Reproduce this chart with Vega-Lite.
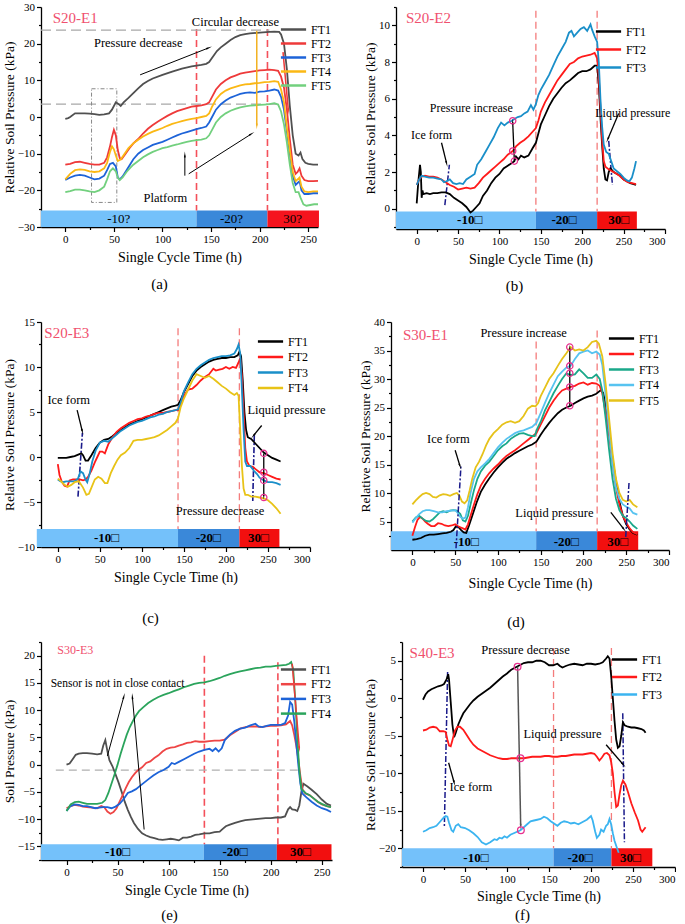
{
"$schema": "https://vega.github.io/schema/vega-lite/v6.json",
"padding": {"left": 2, "top": 1, "right": 0, "bottom": 0},
"datasets": {
"la": [
{"s":"FT1","t":0,"p":-0.5},{"s":"FT1","t":3,"p":-0.3},{"s":"FT1","t":5,"p":0},{"s":"FT1","t":10,"p":1},{"s":"FT1","t":15,"p":1},{"s":"FT1","t":20,"p":1},{"s":"FT1","t":25,"p":0.9},{"s":"FT1","t":30,"p":0.8},{"s":"FT1","t":35,"p":0.6},{"s":"FT1","t":40,"p":0.7},{"s":"FT1","t":45,"p":1},{"s":"FT1","t":48,"p":2},{"s":"FT1","t":52,"p":4},{"s":"FT1","t":55,"p":3.5},{"s":"FT1","t":57,"p":3},{"s":"FT1","t":60,"p":4},{"s":"FT1","t":65,"p":5.2},{"s":"FT1","t":70,"p":6.5},{"s":"FT1","t":75,"p":7.8},{"s":"FT1","t":80,"p":9},{"s":"FT1","t":85,"p":9.8},{"s":"FT1","t":90,"p":10.5},{"s":"FT1","t":100,"p":11.5},{"s":"FT1","t":110,"p":12.4},{"s":"FT1","t":120,"p":13.2},{"s":"FT1","t":130,"p":13.8},{"s":"FT1","t":140,"p":14.2},{"s":"FT1","t":145,"p":14.5},{"s":"FT1","t":148,"p":15},{"s":"FT1","t":152,"p":16.5},{"s":"FT1","t":156,"p":18},{"s":"FT1","t":160,"p":19},{"s":"FT1","t":165,"p":20},{"s":"FT1","t":170,"p":21},{"s":"FT1","t":175,"p":21.8},{"s":"FT1","t":180,"p":22.3},{"s":"FT1","t":185,"p":22.6},{"s":"FT1","t":190,"p":22.8},{"s":"FT1","t":200,"p":23},{"s":"FT1","t":210,"p":23.2},{"s":"FT1","t":215,"p":23.3},{"s":"FT1","t":220,"p":23.2},{"s":"FT1","t":222,"p":22.5},{"s":"FT1","t":225,"p":20},{"s":"FT1","t":228,"p":13},{"s":"FT1","t":231,"p":3},{"s":"FT1","t":234,"p":-5},{"s":"FT1","t":237,"p":-10},{"s":"FT1","t":240,"p":-10.5},{"s":"FT1","t":242,"p":-9.7},{"s":"FT1","t":244,"p":-11.5},{"s":"FT1","t":247,"p":-12.5},{"s":"FT1","t":250,"p":-12.8},{"s":"FT1","t":255,"p":-13},{"s":"FT1","t":260,"p":-13},
{"s":"FT2","t":0,"p":-13},{"s":"FT2","t":5,"p":-12.8},{"s":"FT2","t":10,"p":-12.3},{"s":"FT2","t":15,"p":-12.2},{"s":"FT2","t":20,"p":-12.5},{"s":"FT2","t":25,"p":-12.8},{"s":"FT2","t":30,"p":-13},{"s":"FT2","t":35,"p":-13},{"s":"FT2","t":40,"p":-12.5},{"s":"FT2","t":43,"p":-11},{"s":"FT2","t":46,"p":-8},{"s":"FT2","t":48,"p":-5.5},{"s":"FT2","t":50,"p":-3.5},{"s":"FT2","t":52,"p":-5},{"s":"FT2","t":54,"p":-9},{"s":"FT2","t":56,"p":-11.2},{"s":"FT2","t":58,"p":-11.5},{"s":"FT2","t":62,"p":-10},{"s":"FT2","t":66,"p":-8.5},{"s":"FT2","t":70,"p":-7.2},{"s":"FT2","t":75,"p":-6},{"s":"FT2","t":80,"p":-4.5},{"s":"FT2","t":85,"p":-3.2},{"s":"FT2","t":90,"p":-2.2},{"s":"FT2","t":95,"p":-1.3},{"s":"FT2","t":100,"p":-0.5},{"s":"FT2","t":105,"p":0.3},{"s":"FT2","t":110,"p":1},{"s":"FT2","t":115,"p":1.6},{"s":"FT2","t":120,"p":2},{"s":"FT2","t":125,"p":2.4},{"s":"FT2","t":130,"p":2.8},{"s":"FT2","t":135,"p":3},{"s":"FT2","t":140,"p":3.2},{"s":"FT2","t":145,"p":3.5},{"s":"FT2","t":148,"p":4},{"s":"FT2","t":151,"p":5.5},{"s":"FT2","t":155,"p":7.5},{"s":"FT2","t":160,"p":9},{"s":"FT2","t":165,"p":10},{"s":"FT2","t":170,"p":10.8},{"s":"FT2","t":175,"p":11.3},{"s":"FT2","t":180,"p":11.8},{"s":"FT2","t":185,"p":12.1},{"s":"FT2","t":190,"p":12.3},{"s":"FT2","t":195,"p":12.5},{"s":"FT2","t":200,"p":12.7},{"s":"FT2","t":205,"p":12.8},{"s":"FT2","t":210,"p":12.9},{"s":"FT2","t":215,"p":12.8},{"s":"FT2","t":219,"p":12.6},{"s":"FT2","t":222,"p":11},{"s":"FT2","t":225,"p":8},{"s":"FT2","t":228,"p":2},{"s":"FT2","t":231,"p":-6},{"s":"FT2","t":234,"p":-13},{"s":"FT2","t":237,"p":-15.5},{"s":"FT2","t":239,"p":-15},{"s":"FT2","t":241,"p":-14},{"s":"FT2","t":243,"p":-16},{"s":"FT2","t":246,"p":-17.2},{"s":"FT2","t":250,"p":-17.5},{"s":"FT2","t":255,"p":-17.5},{"s":"FT2","t":260,"p":-17.4},
{"s":"FT3","t":0,"p":-17.2},{"s":"FT3","t":5,"p":-16.5},{"s":"FT3","t":10,"p":-16},{"s":"FT3","t":15,"p":-15.8},{"s":"FT3","t":20,"p":-16},{"s":"FT3","t":25,"p":-16.5},{"s":"FT3","t":30,"p":-17},{"s":"FT3","t":35,"p":-16.8},{"s":"FT3","t":40,"p":-16},{"s":"FT3","t":43,"p":-14.5},{"s":"FT3","t":46,"p":-12.8},{"s":"FT3","t":49,"p":-12.5},{"s":"FT3","t":52,"p":-13.5},{"s":"FT3","t":54,"p":-16.5},{"s":"FT3","t":56,"p":-17},{"s":"FT3","t":59,"p":-16.2},{"s":"FT3","t":63,"p":-14.5},{"s":"FT3","t":67,"p":-12.8},{"s":"FT3","t":70,"p":-11.5},{"s":"FT3","t":75,"p":-10},{"s":"FT3","t":80,"p":-9},{"s":"FT3","t":85,"p":-8.3},{"s":"FT3","t":90,"p":-7.6},{"s":"FT3","t":95,"p":-7.2},{"s":"FT3","t":100,"p":-6.8},{"s":"FT3","t":105,"p":-6.2},{"s":"FT3","t":110,"p":-5.6},{"s":"FT3","t":115,"p":-5},{"s":"FT3","t":120,"p":-4.5},{"s":"FT3","t":125,"p":-4.1},{"s":"FT3","t":130,"p":-3.7},{"s":"FT3","t":135,"p":-3.3},{"s":"FT3","t":140,"p":-3},{"s":"FT3","t":145,"p":-2.6},{"s":"FT3","t":148,"p":-1.5},{"s":"FT3","t":151,"p":0},{"s":"FT3","t":155,"p":2},{"s":"FT3","t":160,"p":3.5},{"s":"FT3","t":165,"p":4.5},{"s":"FT3","t":170,"p":5.3},{"s":"FT3","t":175,"p":5.8},{"s":"FT3","t":180,"p":6.3},{"s":"FT3","t":185,"p":6.6},{"s":"FT3","t":190,"p":6.7},{"s":"FT3","t":195,"p":6.6},{"s":"FT3","t":200,"p":6.9},{"s":"FT3","t":205,"p":7},{"s":"FT3","t":210,"p":7.2},{"s":"FT3","t":215,"p":7.5},{"s":"FT3","t":219,"p":7.2},{"s":"FT3","t":222,"p":5.5},{"s":"FT3","t":225,"p":2},{"s":"FT3","t":228,"p":-4},{"s":"FT3","t":231,"p":-10},{"s":"FT3","t":234,"p":-16},{"s":"FT3","t":237,"p":-18.5},{"s":"FT3","t":239,"p":-18},{"s":"FT3","t":241,"p":-17.5},{"s":"FT3","t":243,"p":-20},{"s":"FT3","t":246,"p":-21},{"s":"FT3","t":250,"p":-21},{"s":"FT3","t":255,"p":-20.8},{"s":"FT3","t":260,"p":-20.8},
{"s":"FT4","t":0,"p":-17},{"s":"FT4","t":5,"p":-15.5},{"s":"FT4","t":10,"p":-14.5},{"s":"FT4","t":15,"p":-14.3},{"s":"FT4","t":20,"p":-14.4},{"s":"FT4","t":25,"p":-14.8},{"s":"FT4","t":30,"p":-15},{"s":"FT4","t":35,"p":-14.8},{"s":"FT4","t":40,"p":-14},{"s":"FT4","t":43,"p":-12.5},{"s":"FT4","t":46,"p":-9.5},{"s":"FT4","t":48,"p":-8},{"s":"FT4","t":50,"p":-8.8},{"s":"FT4","t":52,"p":-10.5},{"s":"FT4","t":54,"p":-12},{"s":"FT4","t":57,"p":-11.6},{"s":"FT4","t":61,"p":-10},{"s":"FT4","t":65,"p":-8.5},{"s":"FT4","t":70,"p":-7.2},{"s":"FT4","t":75,"p":-6.2},{"s":"FT4","t":80,"p":-5.3},{"s":"FT4","t":85,"p":-4.6},{"s":"FT4","t":90,"p":-4},{"s":"FT4","t":95,"p":-3.5},{"s":"FT4","t":100,"p":-3},{"s":"FT4","t":105,"p":-2.4},{"s":"FT4","t":110,"p":-1.9},{"s":"FT4","t":115,"p":-1.5},{"s":"FT4","t":120,"p":-1.1},{"s":"FT4","t":125,"p":-0.8},{"s":"FT4","t":130,"p":-0.5},{"s":"FT4","t":135,"p":-0.3},{"s":"FT4","t":140,"p":0},{"s":"FT4","t":145,"p":0.3},{"s":"FT4","t":148,"p":1},{"s":"FT4","t":151,"p":2.8},{"s":"FT4","t":155,"p":4.8},{"s":"FT4","t":160,"p":6.3},{"s":"FT4","t":165,"p":7.2},{"s":"FT4","t":170,"p":7.8},{"s":"FT4","t":175,"p":8.2},{"s":"FT4","t":180,"p":8.6},{"s":"FT4","t":185,"p":8.9},{"s":"FT4","t":190,"p":9},{"s":"FT4","t":195,"p":9.2},{"s":"FT4","t":200,"p":9.3},{"s":"FT4","t":205,"p":9.5},{"s":"FT4","t":210,"p":9.6},{"s":"FT4","t":215,"p":9.8},{"s":"FT4","t":219,"p":9.6},{"s":"FT4","t":222,"p":7.5},{"s":"FT4","t":225,"p":4},{"s":"FT4","t":228,"p":-3},{"s":"FT4","t":231,"p":-9},{"s":"FT4","t":234,"p":-15},{"s":"FT4","t":237,"p":-17.5},{"s":"FT4","t":239,"p":-17},{"s":"FT4","t":241,"p":-16.5},{"s":"FT4","t":243,"p":-19},{"s":"FT4","t":246,"p":-20.3},{"s":"FT4","t":250,"p":-20.5},{"s":"FT4","t":255,"p":-20.3},{"s":"FT4","t":260,"p":-20.3},
{"s":"FT5","t":0,"p":-20.5},{"s":"FT5","t":5,"p":-20.2},{"s":"FT5","t":10,"p":-19.8},{"s":"FT5","t":15,"p":-19.8},{"s":"FT5","t":20,"p":-20},{"s":"FT5","t":25,"p":-20.3},{"s":"FT5","t":30,"p":-20.5},{"s":"FT5","t":35,"p":-20},{"s":"FT5","t":40,"p":-19},{"s":"FT5","t":43,"p":-17},{"s":"FT5","t":46,"p":-14.8},{"s":"FT5","t":49,"p":-14},{"s":"FT5","t":52,"p":-14.8},{"s":"FT5","t":54,"p":-16.5},{"s":"FT5","t":56,"p":-17.2},{"s":"FT5","t":59,"p":-16.5},{"s":"FT5","t":63,"p":-15},{"s":"FT5","t":67,"p":-13.8},{"s":"FT5","t":70,"p":-13},{"s":"FT5","t":75,"p":-12},{"s":"FT5","t":80,"p":-11},{"s":"FT5","t":85,"p":-10.2},{"s":"FT5","t":90,"p":-9.5},{"s":"FT5","t":95,"p":-9},{"s":"FT5","t":100,"p":-8.5},{"s":"FT5","t":105,"p":-8.2},{"s":"FT5","t":110,"p":-7.8},{"s":"FT5","t":115,"p":-7.5},{"s":"FT5","t":120,"p":-7.1},{"s":"FT5","t":125,"p":-6.8},{"s":"FT5","t":130,"p":-6.5},{"s":"FT5","t":135,"p":-6.3},{"s":"FT5","t":140,"p":-6.2},{"s":"FT5","t":145,"p":-5.8},{"s":"FT5","t":148,"p":-5},{"s":"FT5","t":151,"p":-3.5},{"s":"FT5","t":155,"p":-1.5},{"s":"FT5","t":160,"p":0},{"s":"FT5","t":165,"p":1},{"s":"FT5","t":170,"p":1.7},{"s":"FT5","t":175,"p":2.2},{"s":"FT5","t":180,"p":2.6},{"s":"FT5","t":185,"p":2.9},{"s":"FT5","t":190,"p":3.1},{"s":"FT5","t":195,"p":3.2},{"s":"FT5","t":200,"p":3.3},{"s":"FT5","t":205,"p":3.4},{"s":"FT5","t":210,"p":3.5},{"s":"FT5","t":215,"p":3.8},{"s":"FT5","t":219,"p":3.4},{"s":"FT5","t":222,"p":1.5},{"s":"FT5","t":225,"p":-2},{"s":"FT5","t":228,"p":-7},{"s":"FT5","t":231,"p":-13},{"s":"FT5","t":234,"p":-18},{"s":"FT5","t":237,"p":-20.5},{"s":"FT5","t":240,"p":-20.5},{"s":"FT5","t":242,"p":-22},{"s":"FT5","t":245,"p":-23.8},{"s":"FT5","t":248,"p":-24.2},{"s":"FT5","t":252,"p":-24},{"s":"FT5","t":256,"p":-23.8},{"s":"FT5","t":260,"p":-23.8}
],
"lb": [
{"s":"FT1","t":0,"p":0.3},{"s":"FT1","t":2,"p":1.5},{"s":"FT1","t":4,"p":2.4},{"s":"FT1","t":5,"p":2},{"s":"FT1","t":6,"p":0.6},{"s":"FT1","t":7,"p":1},{"s":"FT1","t":8,"p":0.8},{"s":"FT1","t":12,"p":0.85},{"s":"FT1","t":16,"p":0.8},{"s":"FT1","t":20,"p":0.85},{"s":"FT1","t":25,"p":0.85},{"s":"FT1","t":30,"p":0.9},{"s":"FT1","t":35,"p":0.9},{"s":"FT1","t":40,"p":0.8},{"s":"FT1","t":45,"p":0.6},{"s":"FT1","t":50,"p":0.45},{"s":"FT1","t":55,"p":0.3},{"s":"FT1","t":60,"p":0.1},{"s":"FT1","t":65,"p":-0.2},{"s":"FT1","t":68,"p":-0.1},{"s":"FT1","t":72,"p":0.1},{"s":"FT1","t":76,"p":0.3},{"s":"FT1","t":80,"p":0.7},{"s":"FT1","t":85,"p":1},{"s":"FT1","t":90,"p":1.4},{"s":"FT1","t":95,"p":1.7},{"s":"FT1","t":100,"p":1.9},{"s":"FT1","t":105,"p":2.2},{"s":"FT1","t":110,"p":2.35},{"s":"FT1","t":115,"p":2.5},{"s":"FT1","t":118,"p":2.6},{"s":"FT1","t":120,"p":2.85},{"s":"FT1","t":123,"p":2.7},{"s":"FT1","t":126,"p":2.9},{"s":"FT1","t":130,"p":2.8},{"s":"FT1","t":135,"p":2.9},{"s":"FT1","t":140,"p":3.3},{"s":"FT1","t":144,"p":3.6},{"s":"FT1","t":147,"p":4.1},{"s":"FT1","t":150,"p":4.6},{"s":"FT1","t":155,"p":5.1},{"s":"FT1","t":160,"p":5.6},{"s":"FT1","t":165,"p":6},{"s":"FT1","t":170,"p":6.3},{"s":"FT1","t":175,"p":6.6},{"s":"FT1","t":180,"p":6.85},{"s":"FT1","t":185,"p":7},{"s":"FT1","t":190,"p":7.2},{"s":"FT1","t":195,"p":7.4},{"s":"FT1","t":200,"p":7.5},{"s":"FT1","t":205,"p":7.5},{"s":"FT1","t":210,"p":7.6},{"s":"FT1","t":215,"p":7.8},{"s":"FT1","t":218,"p":7.8},{"s":"FT1","t":220,"p":6.8},{"s":"FT1","t":222,"p":5},{"s":"FT1","t":224,"p":3.5},{"s":"FT1","t":226,"p":2.2},{"s":"FT1","t":228,"p":1.6},{"s":"FT1","t":230,"p":1.55},{"s":"FT1","t":232,"p":2},{"s":"FT1","t":234,"p":2.2},{"s":"FT1","t":238,"p":2},{"s":"FT1","t":242,"p":1.9},{"s":"FT1","t":246,"p":1.8},{"s":"FT1","t":250,"p":1.6},{"s":"FT1","t":254,"p":1.5},{"s":"FT1","t":258,"p":1.4},{"s":"FT1","t":262,"p":1.35},{"s":"FT1","t":265,"p":1.3},
{"s":"FT2","t":0,"p":1.3},{"s":"FT2","t":3,"p":1.6},{"s":"FT2","t":6,"p":1.75},{"s":"FT2","t":10,"p":1.8},{"s":"FT2","t":15,"p":1.75},{"s":"FT2","t":20,"p":1.75},{"s":"FT2","t":25,"p":1.7},{"s":"FT2","t":30,"p":1.6},{"s":"FT2","t":35,"p":1.45},{"s":"FT2","t":40,"p":1.3},{"s":"FT2","t":45,"p":1.2},{"s":"FT2","t":50,"p":1.05},{"s":"FT2","t":55,"p":1.1},{"s":"FT2","t":60,"p":1.15},{"s":"FT2","t":65,"p":1.1},{"s":"FT2","t":70,"p":1.15},{"s":"FT2","t":75,"p":1.4},{"s":"FT2","t":80,"p":1.7},{"s":"FT2","t":85,"p":1.9},{"s":"FT2","t":90,"p":2.1},{"s":"FT2","t":95,"p":2.3},{"s":"FT2","t":100,"p":2.5},{"s":"FT2","t":105,"p":2.7},{"s":"FT2","t":110,"p":2.95},{"s":"FT2","t":116,"p":3.15},{"s":"FT2","t":120,"p":3.4},{"s":"FT2","t":125,"p":3.6},{"s":"FT2","t":130,"p":3.75},{"s":"FT2","t":135,"p":3.95},{"s":"FT2","t":140,"p":4.2},{"s":"FT2","t":144,"p":4.4},{"s":"FT2","t":147,"p":4.8},{"s":"FT2","t":150,"p":5.3},{"s":"FT2","t":155,"p":5.8},{"s":"FT2","t":160,"p":6.2},{"s":"FT2","t":165,"p":6.6},{"s":"FT2","t":170,"p":7},{"s":"FT2","t":175,"p":7.3},{"s":"FT2","t":180,"p":7.6},{"s":"FT2","t":185,"p":7.9},{"s":"FT2","t":190,"p":8},{"s":"FT2","t":195,"p":8.2},{"s":"FT2","t":200,"p":8.3},{"s":"FT2","t":205,"p":8.35},{"s":"FT2","t":210,"p":8.4},{"s":"FT2","t":215,"p":8.5},{"s":"FT2","t":218,"p":8.2},{"s":"FT2","t":220,"p":7.2},{"s":"FT2","t":222,"p":5.5},{"s":"FT2","t":224,"p":3.8},{"s":"FT2","t":226,"p":2.6},{"s":"FT2","t":228,"p":2.3},{"s":"FT2","t":232,"p":2.15},{"s":"FT2","t":236,"p":2.05},{"s":"FT2","t":240,"p":1.95},{"s":"FT2","t":245,"p":1.8},{"s":"FT2","t":250,"p":1.6},{"s":"FT2","t":255,"p":1.45},{"s":"FT2","t":260,"p":1.4},{"s":"FT2","t":265,"p":1.35},
{"s":"FT3","t":0,"p":1.3},{"s":"FT3","t":3,"p":1.6},{"s":"FT3","t":6,"p":1.8},{"s":"FT3","t":10,"p":1.75},{"s":"FT3","t":15,"p":1.7},{"s":"FT3","t":20,"p":1.7},{"s":"FT3","t":25,"p":1.65},{"s":"FT3","t":30,"p":1.6},{"s":"FT3","t":33,"p":1.45},{"s":"FT3","t":36,"p":1.5},{"s":"FT3","t":40,"p":1.6},{"s":"FT3","t":44,"p":1.4},{"s":"FT3","t":48,"p":1.35},{"s":"FT3","t":52,"p":1.4},{"s":"FT3","t":56,"p":1.35},{"s":"FT3","t":60,"p":1.6},{"s":"FT3","t":65,"p":1.75},{"s":"FT3","t":70,"p":1.9},{"s":"FT3","t":73,"p":2.4},{"s":"FT3","t":78,"p":2.7},{"s":"FT3","t":83,"p":3.1},{"s":"FT3","t":88,"p":3.5},{"s":"FT3","t":93,"p":3.9},{"s":"FT3","t":98,"p":4.4},{"s":"FT3","t":102,"p":4.7},{"s":"FT3","t":106,"p":4.55},{"s":"FT3","t":110,"p":4.7},{"s":"FT3","t":115,"p":4.8},{"s":"FT3","t":118,"p":4.9},{"s":"FT3","t":122,"p":5},{"s":"FT3","t":126,"p":5.05},{"s":"FT3","t":130,"p":5.2},{"s":"FT3","t":134,"p":5.3},{"s":"FT3","t":138,"p":5.65},{"s":"FT3","t":141,"p":5.4},{"s":"FT3","t":144,"p":5.7},{"s":"FT3","t":147,"p":6.2},{"s":"FT3","t":150,"p":6.5},{"s":"FT3","t":155,"p":6.9},{"s":"FT3","t":160,"p":7.3},{"s":"FT3","t":165,"p":7.8},{"s":"FT3","t":170,"p":8.3},{"s":"FT3","t":175,"p":8.7},{"s":"FT3","t":180,"p":9.1},{"s":"FT3","t":184,"p":9.6},{"s":"FT3","t":187,"p":9.7},{"s":"FT3","t":190,"p":9.4},{"s":"FT3","t":194,"p":9.6},{"s":"FT3","t":198,"p":9.8},{"s":"FT3","t":202,"p":9.9},{"s":"FT3","t":206,"p":9.7},{"s":"FT3","t":210,"p":10.05},{"s":"FT3","t":212,"p":9.75},{"s":"FT3","t":215,"p":9.4},{"s":"FT3","t":218,"p":9.1},{"s":"FT3","t":220,"p":8},{"s":"FT3","t":222,"p":6},{"s":"FT3","t":224,"p":4.5},{"s":"FT3","t":226,"p":3.5},{"s":"FT3","t":229,"p":3.1},{"s":"FT3","t":232,"p":3},{"s":"FT3","t":235,"p":2.6},{"s":"FT3","t":238,"p":2.2},{"s":"FT3","t":242,"p":2.05},{"s":"FT3","t":246,"p":1.9},{"s":"FT3","t":250,"p":1.7},{"s":"FT3","t":254,"p":1.55},{"s":"FT3","t":257,"p":1.5},{"s":"FT3","t":260,"p":1.7},{"s":"FT3","t":263,"p":2.2},{"s":"FT3","t":265,"p":2.6}
],
"lc": [
{"s":"FT1","t":0,"p":-0.1},{"s":"FT1","t":5,"p":-0.1},{"s":"FT1","t":10,"p":-0.1},{"s":"FT1","t":15,"p":0},{"s":"FT1","t":20,"p":0.1},{"s":"FT1","t":25,"p":0.3},{"s":"FT1","t":28,"p":0.4},{"s":"FT1","t":30,"p":0.2},{"s":"FT1","t":33,"p":-0.4},{"s":"FT1","t":36,"p":-0.4},{"s":"FT1","t":40,"p":0.2},{"s":"FT1","t":45,"p":1},{"s":"FT1","t":50,"p":1.6},{"s":"FT1","t":55,"p":1.9},{"s":"FT1","t":60,"p":2},{"s":"FT1","t":65,"p":2.3},{"s":"FT1","t":70,"p":2.7},{"s":"FT1","t":75,"p":3},{"s":"FT1","t":80,"p":3.3},{"s":"FT1","t":85,"p":3.6},{"s":"FT1","t":90,"p":3.8},{"s":"FT1","t":95,"p":4},{"s":"FT1","t":100,"p":4.2},{"s":"FT1","t":105,"p":4.4},{"s":"FT1","t":110,"p":4.6},{"s":"FT1","t":115,"p":4.8},{"s":"FT1","t":120,"p":5},{"s":"FT1","t":125,"p":5.2},{"s":"FT1","t":130,"p":5.4},{"s":"FT1","t":135,"p":5.6},{"s":"FT1","t":140,"p":5.7},{"s":"FT1","t":143,"p":5.8},{"s":"FT1","t":146,"p":6.3},{"s":"FT1","t":150,"p":7.2},{"s":"FT1","t":155,"p":8.1},{"s":"FT1","t":160,"p":9},{"s":"FT1","t":165,"p":9.6},{"s":"FT1","t":170,"p":10},{"s":"FT1","t":175,"p":10.3},{"s":"FT1","t":180,"p":10.6},{"s":"FT1","t":185,"p":10.8},{"s":"FT1","t":190,"p":10.9},{"s":"FT1","t":195,"p":11},{"s":"FT1","t":200,"p":11},{"s":"FT1","t":205,"p":11.1},{"s":"FT1","t":210,"p":11.1},{"s":"FT1","t":214,"p":11.3},{"s":"FT1","t":216,"p":11.7},{"s":"FT1","t":218,"p":11.2},{"s":"FT1","t":220,"p":8.5},{"s":"FT1","t":222,"p":5},{"s":"FT1","t":224,"p":3},{"s":"FT1","t":226,"p":2.2},{"s":"FT1","t":230,"p":2},{"s":"FT1","t":235,"p":1.5},{"s":"FT1","t":240,"p":1},{"s":"FT1","t":245,"p":0.5},{"s":"FT1","t":250,"p":0.2},{"s":"FT1","t":255,"p":-0.1},{"s":"FT1","t":260,"p":-0.3},{"s":"FT1","t":265,"p":-0.5},
{"s":"FT2","t":0,"p":-0.8},{"s":"FT2","t":2,"p":-2},{"s":"FT2","t":5,"p":-2.8},{"s":"FT2","t":8,"p":-3.2},{"s":"FT2","t":11,"p":-3.3},{"s":"FT2","t":14,"p":-2.6},{"s":"FT2","t":18,"p":-2.5},{"s":"FT2","t":22,"p":-2.5},{"s":"FT2","t":26,"p":-2.5},{"s":"FT2","t":30,"p":-2.6},{"s":"FT2","t":33,"p":-2.5},{"s":"FT2","t":36,"p":-2.2},{"s":"FT2","t":40,"p":-1.5},{"s":"FT2","t":44,"p":-0.6},{"s":"FT2","t":47,"p":0},{"s":"FT2","t":50,"p":0.6},{"s":"FT2","t":53,"p":0.6},{"s":"FT2","t":56,"p":0.4},{"s":"FT2","t":60,"p":1.4},{"s":"FT2","t":65,"p":2.2},{"s":"FT2","t":70,"p":2.8},{"s":"FT2","t":75,"p":3.2},{"s":"FT2","t":80,"p":3.5},{"s":"FT2","t":85,"p":3.8},{"s":"FT2","t":90,"p":4},{"s":"FT2","t":95,"p":4.2},{"s":"FT2","t":100,"p":4.3},{"s":"FT2","t":105,"p":4.5},{"s":"FT2","t":110,"p":4.6},{"s":"FT2","t":115,"p":4.8},{"s":"FT2","t":120,"p":4.9},{"s":"FT2","t":125,"p":4.9},{"s":"FT2","t":130,"p":5},{"s":"FT2","t":135,"p":5.1},{"s":"FT2","t":140,"p":5.2},{"s":"FT2","t":143,"p":5.2},{"s":"FT2","t":146,"p":5.8},{"s":"FT2","t":150,"p":6.8},{"s":"FT2","t":155,"p":7.5},{"s":"FT2","t":160,"p":7.6},{"s":"FT2","t":165,"p":8},{"s":"FT2","t":170,"p":8.5},{"s":"FT2","t":175,"p":8.9},{"s":"FT2","t":180,"p":9.2},{"s":"FT2","t":185,"p":9.8},{"s":"FT2","t":188,"p":9.6},{"s":"FT2","t":192,"p":9.7},{"s":"FT2","t":196,"p":9.8},{"s":"FT2","t":200,"p":10},{"s":"FT2","t":204,"p":9.8},{"s":"FT2","t":208,"p":10},{"s":"FT2","t":212,"p":9.9},{"s":"FT2","t":215,"p":10.5},{"s":"FT2","t":217,"p":11},{"s":"FT2","t":219,"p":9},{"s":"FT2","t":221,"p":5},{"s":"FT2","t":223,"p":1},{"s":"FT2","t":225,"p":-0.5},{"s":"FT2","t":228,"p":-1},{"s":"FT2","t":232,"p":-1.1},{"s":"FT2","t":236,"p":-1.4},{"s":"FT2","t":240,"p":-1.7},{"s":"FT2","t":245,"p":-1.8},{"s":"FT2","t":250,"p":-2},{"s":"FT2","t":255,"p":-2.2},{"s":"FT2","t":260,"p":-2.4},{"s":"FT2","t":265,"p":-2.5},
{"s":"FT3","t":0,"p":-2.5},{"s":"FT3","t":3,"p":-2.7},{"s":"FT3","t":6,"p":-2.8},{"s":"FT3","t":10,"p":-2.7},{"s":"FT3","t":15,"p":-2.7},{"s":"FT3","t":20,"p":-2.7},{"s":"FT3","t":24,"p":-2.4},{"s":"FT3","t":27,"p":-1.6},{"s":"FT3","t":30,"p":-1.8},{"s":"FT3","t":33,"p":-2.5},{"s":"FT3","t":35,"p":-2.8},{"s":"FT3","t":38,"p":-1.8},{"s":"FT3","t":41,"p":-0.5},{"s":"FT3","t":45,"p":0.7},{"s":"FT3","t":50,"p":1.6},{"s":"FT3","t":55,"p":1.8},{"s":"FT3","t":60,"p":1.7},{"s":"FT3","t":65,"p":2.1},{"s":"FT3","t":70,"p":2.5},{"s":"FT3","t":75,"p":2.9},{"s":"FT3","t":80,"p":3.2},{"s":"FT3","t":85,"p":3.5},{"s":"FT3","t":90,"p":3.7},{"s":"FT3","t":95,"p":3.9},{"s":"FT3","t":100,"p":4},{"s":"FT3","t":105,"p":4.2},{"s":"FT3","t":110,"p":4.4},{"s":"FT3","t":115,"p":4.5},{"s":"FT3","t":120,"p":4.7},{"s":"FT3","t":125,"p":4.8},{"s":"FT3","t":130,"p":5},{"s":"FT3","t":135,"p":5.1},{"s":"FT3","t":140,"p":5.2},{"s":"FT3","t":143,"p":5.3},{"s":"FT3","t":146,"p":6},{"s":"FT3","t":150,"p":7.3},{"s":"FT3","t":155,"p":8.3},{"s":"FT3","t":160,"p":9.2},{"s":"FT3","t":165,"p":9.8},{"s":"FT3","t":170,"p":10.2},{"s":"FT3","t":175,"p":10.5},{"s":"FT3","t":180,"p":10.8},{"s":"FT3","t":185,"p":11},{"s":"FT3","t":190,"p":11.1},{"s":"FT3","t":195,"p":11.2},{"s":"FT3","t":200,"p":11.2},{"s":"FT3","t":205,"p":11.3},{"s":"FT3","t":210,"p":11.5},{"s":"FT3","t":213,"p":12},{"s":"FT3","t":215,"p":12.5},{"s":"FT3","t":217,"p":11.5},{"s":"FT3","t":219,"p":7.5},{"s":"FT3","t":221,"p":3},{"s":"FT3","t":223,"p":-0.5},{"s":"FT3","t":225,"p":-1},{"s":"FT3","t":229,"p":-1},{"s":"FT3","t":233,"p":-1.5},{"s":"FT3","t":237,"p":-1.9},{"s":"FT3","t":240,"p":-2.3},{"s":"FT3","t":245,"p":-2.6},{"s":"FT3","t":250,"p":-2.8},{"s":"FT3","t":255,"p":-2.8},{"s":"FT3","t":260,"p":-2.9},{"s":"FT3","t":265,"p":-3.1},
{"s":"FT4","t":0,"p":-2.4},{"s":"FT4","t":4,"p":-2.7},{"s":"FT4","t":8,"p":-3.1},{"s":"FT4","t":12,"p":-3.3},{"s":"FT4","t":16,"p":-3.1},{"s":"FT4","t":20,"p":-2.8},{"s":"FT4","t":25,"p":-2.7},{"s":"FT4","t":30,"p":-3.4},{"s":"FT4","t":34,"p":-4.2},{"s":"FT4","t":37,"p":-4.1},{"s":"FT4","t":40,"p":-3.4},{"s":"FT4","t":44,"p":-2.5},{"s":"FT4","t":48,"p":-2.2},{"s":"FT4","t":52,"p":-2.4},{"s":"FT4","t":56,"p":-2.9},{"s":"FT4","t":59,"p":-2.9},{"s":"FT4","t":63,"p":-1.8},{"s":"FT4","t":67,"p":-1},{"s":"FT4","t":71,"p":-0.3},{"s":"FT4","t":75,"p":0.2},{"s":"FT4","t":80,"p":0.5},{"s":"FT4","t":85,"p":1},{"s":"FT4","t":90,"p":1.8},{"s":"FT4","t":95,"p":1.9},{"s":"FT4","t":100,"p":1.9},{"s":"FT4","t":105,"p":2},{"s":"FT4","t":110,"p":2.1},{"s":"FT4","t":115,"p":2.2},{"s":"FT4","t":120,"p":2.4},{"s":"FT4","t":125,"p":2.7},{"s":"FT4","t":130,"p":3},{"s":"FT4","t":135,"p":3.4},{"s":"FT4","t":140,"p":3.8},{"s":"FT4","t":143,"p":4.3},{"s":"FT4","t":146,"p":5.5},{"s":"FT4","t":150,"p":6.5},{"s":"FT4","t":155,"p":7.5},{"s":"FT4","t":160,"p":8.5},{"s":"FT4","t":165,"p":9.2},{"s":"FT4","t":170,"p":9},{"s":"FT4","t":175,"p":8.8},{"s":"FT4","t":180,"p":9},{"s":"FT4","t":185,"p":8.7},{"s":"FT4","t":190,"p":8.3},{"s":"FT4","t":195,"p":7.9},{"s":"FT4","t":200,"p":7.6},{"s":"FT4","t":205,"p":7.2},{"s":"FT4","t":210,"p":6.9},{"s":"FT4","t":213,"p":7.1},{"s":"FT4","t":215,"p":6.8},{"s":"FT4","t":217,"p":3},{"s":"FT4","t":219,"p":-1},{"s":"FT4","t":221,"p":-3.5},{"s":"FT4","t":223,"p":-4.2},{"s":"FT4","t":226,"p":-4.2},{"s":"FT4","t":230,"p":-4.4},{"s":"FT4","t":235,"p":-4.4},{"s":"FT4","t":240,"p":-4.5},{"s":"FT4","t":245,"p":-4.6},{"s":"FT4","t":250,"p":-4.8},{"s":"FT4","t":255,"p":-5.2},{"s":"FT4","t":260,"p":-5.7},{"s":"FT4","t":265,"p":-6.3}
],
"ld": [
{"s":"FT1","t":0,"p":1.8},{"s":"FT1","t":5,"p":1.9},{"s":"FT1","t":10,"p":2.1},{"s":"FT1","t":15,"p":2.5},{"s":"FT1","t":20,"p":2.7},{"s":"FT1","t":25,"p":2.7},{"s":"FT1","t":30,"p":2.8},{"s":"FT1","t":35,"p":2.9},{"s":"FT1","t":40,"p":3},{"s":"FT1","t":45,"p":3.2},{"s":"FT1","t":48,"p":3.5},{"s":"FT1","t":51,"p":4.2},{"s":"FT1","t":54,"p":4},{"s":"FT1","t":57,"p":3.5},{"s":"FT1","t":60,"p":3.1},{"s":"FT1","t":63,"p":3},{"s":"FT1","t":66,"p":4.2},{"s":"FT1","t":70,"p":6},{"s":"FT1","t":75,"p":8.3},{"s":"FT1","t":80,"p":10.2},{"s":"FT1","t":85,"p":11.5},{"s":"FT1","t":90,"p":12.6},{"s":"FT1","t":95,"p":13.6},{"s":"FT1","t":100,"p":14.5},{"s":"FT1","t":105,"p":15.3},{"s":"FT1","t":110,"p":16},{"s":"FT1","t":115,"p":16.5},{"s":"FT1","t":120,"p":17},{"s":"FT1","t":125,"p":17.4},{"s":"FT1","t":130,"p":17.8},{"s":"FT1","t":135,"p":18.2},{"s":"FT1","t":140,"p":18.5},{"s":"FT1","t":145,"p":19},{"s":"FT1","t":150,"p":20.2},{"s":"FT1","t":155,"p":21.3},{"s":"FT1","t":160,"p":22.3},{"s":"FT1","t":165,"p":23.2},{"s":"FT1","t":170,"p":24},{"s":"FT1","t":175,"p":24.6},{"s":"FT1","t":180,"p":25},{"s":"FT1","t":185,"p":25.3},{"s":"FT1","t":190,"p":25.8},{"s":"FT1","t":195,"p":26.2},{"s":"FT1","t":200,"p":26.6},{"s":"FT1","t":205,"p":26.9},{"s":"FT1","t":210,"p":27.1},{"s":"FT1","t":215,"p":27.4},{"s":"FT1","t":220,"p":28},{"s":"FT1","t":223,"p":27.6},{"s":"FT1","t":226,"p":25.5},{"s":"FT1","t":230,"p":21},{"s":"FT1","t":234,"p":16},{"s":"FT1","t":238,"p":12},{"s":"FT1","t":242,"p":8.5},{"s":"FT1","t":246,"p":6},{"s":"FT1","t":250,"p":4.5},{"s":"FT1","t":254,"p":3.6},{"s":"FT1","t":258,"p":3},{"s":"FT1","t":263,"p":2.7},
{"s":"FT2","t":0,"p":2.5},{"s":"FT2","t":3,"p":4},{"s":"FT2","t":6,"p":5.3},{"s":"FT2","t":9,"p":5.8},{"s":"FT2","t":12,"p":5.5},{"s":"FT2","t":15,"p":5},{"s":"FT2","t":18,"p":4.6},{"s":"FT2","t":22,"p":4.2},{"s":"FT2","t":26,"p":4.2},{"s":"FT2","t":30,"p":4.7},{"s":"FT2","t":34,"p":4.6},{"s":"FT2","t":38,"p":4.3},{"s":"FT2","t":42,"p":4.2},{"s":"FT2","t":46,"p":4.3},{"s":"FT2","t":50,"p":4.5},{"s":"FT2","t":53,"p":4.2},{"s":"FT2","t":56,"p":4},{"s":"FT2","t":59,"p":3.8},{"s":"FT2","t":62,"p":3.6},{"s":"FT2","t":65,"p":4.5},{"s":"FT2","t":68,"p":6},{"s":"FT2","t":72,"p":8},{"s":"FT2","t":76,"p":9.8},{"s":"FT2","t":80,"p":11.3},{"s":"FT2","t":85,"p":12.5},{"s":"FT2","t":90,"p":13.5},{"s":"FT2","t":95,"p":14.3},{"s":"FT2","t":100,"p":15},{"s":"FT2","t":105,"p":15.8},{"s":"FT2","t":110,"p":16.5},{"s":"FT2","t":115,"p":17},{"s":"FT2","t":120,"p":17.5},{"s":"FT2","t":125,"p":18.1},{"s":"FT2","t":130,"p":18.7},{"s":"FT2","t":135,"p":19.3},{"s":"FT2","t":140,"p":19.9},{"s":"FT2","t":145,"p":20.5},{"s":"FT2","t":150,"p":22},{"s":"FT2","t":155,"p":23.5},{"s":"FT2","t":160,"p":25},{"s":"FT2","t":165,"p":26.2},{"s":"FT2","t":170,"p":27.2},{"s":"FT2","t":175,"p":28},{"s":"FT2","t":180,"p":28.3},{"s":"FT2","t":185,"p":28.6},{"s":"FT2","t":190,"p":28.8},{"s":"FT2","t":195,"p":29.2},{"s":"FT2","t":200,"p":29.4},{"s":"FT2","t":205,"p":29},{"s":"FT2","t":210,"p":29.3},{"s":"FT2","t":215,"p":29.2},{"s":"FT2","t":219,"p":28.8},{"s":"FT2","t":222,"p":27.5},{"s":"FT2","t":226,"p":24},{"s":"FT2","t":230,"p":20},{"s":"FT2","t":234,"p":15},{"s":"FT2","t":238,"p":11},{"s":"FT2","t":242,"p":8},{"s":"FT2","t":246,"p":6},{"s":"FT2","t":250,"p":4.8},{"s":"FT2","t":254,"p":3.8},{"s":"FT2","t":258,"p":3.1},{"s":"FT2","t":263,"p":2.8},
{"s":"FT3","t":0,"p":5},{"s":"FT3","t":4,"p":5.7},{"s":"FT3","t":8,"p":6},{"s":"FT3","t":12,"p":5.5},{"s":"FT3","t":16,"p":5.1},{"s":"FT3","t":20,"p":5},{"s":"FT3","t":24,"p":5.4},{"s":"FT3","t":28,"p":6},{"s":"FT3","t":32,"p":6.6},{"s":"FT3","t":36,"p":6.8},{"s":"FT3","t":40,"p":6.6},{"s":"FT3","t":44,"p":6.9},{"s":"FT3","t":48,"p":7},{"s":"FT3","t":52,"p":6.9},{"s":"FT3","t":56,"p":6.3},{"s":"FT3","t":59,"p":5.2},{"s":"FT3","t":62,"p":5},{"s":"FT3","t":65,"p":6},{"s":"FT3","t":68,"p":8},{"s":"FT3","t":72,"p":10.5},{"s":"FT3","t":76,"p":12.5},{"s":"FT3","t":80,"p":13.8},{"s":"FT3","t":85,"p":14.8},{"s":"FT3","t":90,"p":15.5},{"s":"FT3","t":95,"p":16.5},{"s":"FT3","t":100,"p":17.5},{"s":"FT3","t":105,"p":18.2},{"s":"FT3","t":110,"p":18.7},{"s":"FT3","t":115,"p":19.5},{"s":"FT3","t":120,"p":20},{"s":"FT3","t":125,"p":20.4},{"s":"FT3","t":130,"p":20.5},{"s":"FT3","t":135,"p":20.2},{"s":"FT3","t":140,"p":20},{"s":"FT3","t":143,"p":20},{"s":"FT3","t":146,"p":21.3},{"s":"FT3","t":150,"p":22.5},{"s":"FT3","t":155,"p":24.5},{"s":"FT3","t":160,"p":26},{"s":"FT3","t":165,"p":27.5},{"s":"FT3","t":170,"p":28.8},{"s":"FT3","t":175,"p":30},{"s":"FT3","t":180,"p":31},{"s":"FT3","t":185,"p":30.7},{"s":"FT3","t":190,"p":30.8},{"s":"FT3","t":195,"p":31.7},{"s":"FT3","t":200,"p":31},{"s":"FT3","t":205,"p":30.2},{"s":"FT3","t":210,"p":30.2},{"s":"FT3","t":215,"p":30.8},{"s":"FT3","t":219,"p":30},{"s":"FT3","t":222,"p":28},{"s":"FT3","t":226,"p":23},{"s":"FT3","t":230,"p":17.5},{"s":"FT3","t":234,"p":12.5},{"s":"FT3","t":238,"p":9},{"s":"FT3","t":242,"p":7},{"s":"FT3","t":246,"p":6},{"s":"FT3","t":250,"p":5.6},{"s":"FT3","t":254,"p":5},{"s":"FT3","t":258,"p":4.3},{"s":"FT3","t":263,"p":3.7},
{"s":"FT4","t":0,"p":4.8},{"s":"FT4","t":4,"p":5.6},{"s":"FT4","t":8,"p":6.3},{"s":"FT4","t":12,"p":6.8},{"s":"FT4","t":16,"p":7},{"s":"FT4","t":20,"p":7},{"s":"FT4","t":25,"p":6.8},{"s":"FT4","t":30,"p":6.6},{"s":"FT4","t":35,"p":6.6},{"s":"FT4","t":40,"p":6.8},{"s":"FT4","t":45,"p":6.9},{"s":"FT4","t":50,"p":7},{"s":"FT4","t":53,"p":6.5},{"s":"FT4","t":56,"p":5.8},{"s":"FT4","t":59,"p":5.5},{"s":"FT4","t":62,"p":5.7},{"s":"FT4","t":65,"p":7.5},{"s":"FT4","t":68,"p":10},{"s":"FT4","t":72,"p":12.5},{"s":"FT4","t":76,"p":13.8},{"s":"FT4","t":80,"p":14.5},{"s":"FT4","t":85,"p":15.2},{"s":"FT4","t":90,"p":16},{"s":"FT4","t":95,"p":17},{"s":"FT4","t":100,"p":18},{"s":"FT4","t":105,"p":18.8},{"s":"FT4","t":110,"p":19.5},{"s":"FT4","t":115,"p":20},{"s":"FT4","t":120,"p":20.5},{"s":"FT4","t":125,"p":20.8},{"s":"FT4","t":130,"p":21},{"s":"FT4","t":135,"p":21.3},{"s":"FT4","t":140,"p":21.6},{"s":"FT4","t":145,"p":22.3},{"s":"FT4","t":150,"p":24},{"s":"FT4","t":155,"p":25.8},{"s":"FT4","t":160,"p":27.5},{"s":"FT4","t":165,"p":29},{"s":"FT4","t":170,"p":30.5},{"s":"FT4","t":175,"p":31.3},{"s":"FT4","t":180,"p":32},{"s":"FT4","t":185,"p":32.3},{"s":"FT4","t":190,"p":33.5},{"s":"FT4","t":195,"p":34.5},{"s":"FT4","t":200,"p":34.8},{"s":"FT4","t":205,"p":35},{"s":"FT4","t":210,"p":34.5},{"s":"FT4","t":215,"p":34.8},{"s":"FT4","t":219,"p":34.3},{"s":"FT4","t":222,"p":32.5},{"s":"FT4","t":226,"p":27},{"s":"FT4","t":230,"p":21},{"s":"FT4","t":234,"p":15},{"s":"FT4","t":238,"p":11},{"s":"FT4","t":242,"p":9},{"s":"FT4","t":246,"p":8},{"s":"FT4","t":250,"p":7.6},{"s":"FT4","t":254,"p":7.3},{"s":"FT4","t":258,"p":6.5},{"s":"FT4","t":263,"p":6.2},
{"s":"FT5","t":0,"p":8},{"s":"FT5","t":4,"p":8.7},{"s":"FT5","t":8,"p":9.3},{"s":"FT5","t":12,"p":9.8},{"s":"FT5","t":16,"p":10},{"s":"FT5","t":20,"p":9.8},{"s":"FT5","t":24,"p":9.3},{"s":"FT5","t":28,"p":9.2},{"s":"FT5","t":32,"p":9.6},{"s":"FT5","t":36,"p":9.8},{"s":"FT5","t":40,"p":9.7},{"s":"FT5","t":44,"p":9.5},{"s":"FT5","t":48,"p":9.8},{"s":"FT5","t":52,"p":10},{"s":"FT5","t":55,"p":9.5},{"s":"FT5","t":58,"p":8.5},{"s":"FT5","t":61,"p":8.2},{"s":"FT5","t":64,"p":8.7},{"s":"FT5","t":67,"p":10.5},{"s":"FT5","t":70,"p":12.5},{"s":"FT5","t":74,"p":14.5},{"s":"FT5","t":78,"p":15.5},{"s":"FT5","t":82,"p":16.8},{"s":"FT5","t":86,"p":18.3},{"s":"FT5","t":90,"p":19.5},{"s":"FT5","t":95,"p":20.5},{"s":"FT5","t":100,"p":21.2},{"s":"FT5","t":105,"p":22},{"s":"FT5","t":110,"p":22.4},{"s":"FT5","t":115,"p":22.6},{"s":"FT5","t":120,"p":22.3},{"s":"FT5","t":125,"p":22.6},{"s":"FT5","t":130,"p":23.5},{"s":"FT5","t":135,"p":24.8},{"s":"FT5","t":140,"p":25.3},{"s":"FT5","t":144,"p":25.2},{"s":"FT5","t":147,"p":25.8},{"s":"FT5","t":150,"p":27},{"s":"FT5","t":155,"p":28.5},{"s":"FT5","t":160,"p":30},{"s":"FT5","t":165,"p":31},{"s":"FT5","t":170,"p":32.3},{"s":"FT5","t":175,"p":33.5},{"s":"FT5","t":180,"p":34.5},{"s":"FT5","t":185,"p":35.6},{"s":"FT5","t":190,"p":35},{"s":"FT5","t":195,"p":35.2},{"s":"FT5","t":200,"p":35},{"s":"FT5","t":205,"p":35.6},{"s":"FT5","t":210,"p":36.5},{"s":"FT5","t":215,"p":36.7},{"s":"FT5","t":218,"p":36.2},{"s":"FT5","t":222,"p":34},{"s":"FT5","t":226,"p":29},{"s":"FT5","t":230,"p":23},{"s":"FT5","t":234,"p":17},{"s":"FT5","t":238,"p":12.5},{"s":"FT5","t":242,"p":10},{"s":"FT5","t":246,"p":8.8},{"s":"FT5","t":250,"p":8.5},{"s":"FT5","t":254,"p":8.8},{"s":"FT5","t":258,"p":8},{"s":"FT5","t":263,"p":7.5}
],
"le": [
{"s":"FT1","t":0,"p":0},{"s":"FT1","t":3,"p":0.2},{"s":"FT1","t":6,"p":1},{"s":"FT1","t":9,"p":1.8},{"s":"FT1","t":12,"p":2},{"s":"FT1","t":16,"p":2.1},{"s":"FT1","t":20,"p":2.1},{"s":"FT1","t":25,"p":2},{"s":"FT1","t":30,"p":1.9},{"s":"FT1","t":34,"p":2},{"s":"FT1","t":36,"p":3.5},{"s":"FT1","t":38,"p":4.5},{"s":"FT1","t":40,"p":2.5},{"s":"FT1","t":42,"p":0.8},{"s":"FT1","t":45,"p":-0.3},{"s":"FT1","t":48,"p":-1.8},{"s":"FT1","t":51,"p":-3.3},{"s":"FT1","t":54,"p":-5},{"s":"FT1","t":57,"p":-6.8},{"s":"FT1","t":60,"p":-8.3},{"s":"FT1","t":63,"p":-9.6},{"s":"FT1","t":66,"p":-10.7},{"s":"FT1","t":70,"p":-11.8},{"s":"FT1","t":74,"p":-12.6},{"s":"FT1","t":78,"p":-13},{"s":"FT1","t":82,"p":-13.3},{"s":"FT1","t":86,"p":-13.5},{"s":"FT1","t":90,"p":-13.7},{"s":"FT1","t":94,"p":-13.8},{"s":"FT1","t":98,"p":-13.7},{"s":"FT1","t":102,"p":-13.6},{"s":"FT1","t":106,"p":-13.7},{"s":"FT1","t":110,"p":-13.9},{"s":"FT1","t":114,"p":-13.4},{"s":"FT1","t":118,"p":-13.4},{"s":"FT1","t":122,"p":-13.2},{"s":"FT1","t":126,"p":-12.9},{"s":"FT1","t":130,"p":-12.8},{"s":"FT1","t":135,"p":-12.6},{"s":"FT1","t":140,"p":-12.6},{"s":"FT1","t":145,"p":-12.4},{"s":"FT1","t":150,"p":-12.3},{"s":"FT1","t":153,"p":-11.8},{"s":"FT1","t":156,"p":-11.3},{"s":"FT1","t":160,"p":-11},{"s":"FT1","t":165,"p":-10.7},{"s":"FT1","t":170,"p":-10.4},{"s":"FT1","t":175,"p":-10.2},{"s":"FT1","t":180,"p":-10.1},{"s":"FT1","t":185,"p":-10},{"s":"FT1","t":190,"p":-9.9},{"s":"FT1","t":195,"p":-9.8},{"s":"FT1","t":200,"p":-9.8},{"s":"FT1","t":205,"p":-9.7},{"s":"FT1","t":210,"p":-9.7},{"s":"FT1","t":214,"p":-9.5},{"s":"FT1","t":217,"p":-8.2},{"s":"FT1","t":219,"p":-7.8},{"s":"FT1","t":221,"p":-8.2},{"s":"FT1","t":224,"p":-8.3},{"s":"FT1","t":226,"p":-8.5},{"s":"FT1","t":228,"p":-7.5},{"s":"FT1","t":230,"p":-5},{"s":"FT1","t":232,"p":-3.5},{"s":"FT1","t":236,"p":-4},{"s":"FT1","t":240,"p":-4.6},{"s":"FT1","t":245,"p":-5.4},{"s":"FT1","t":250,"p":-6.4},{"s":"FT1","t":255,"p":-7.2},{"s":"FT1","t":259,"p":-7.5},
{"s":"FT2","t":0,"p":-8},{"s":"FT2","t":4,"p":-7.6},{"s":"FT2","t":8,"p":-7.4},{"s":"FT2","t":12,"p":-7.5},{"s":"FT2","t":16,"p":-7.7},{"s":"FT2","t":20,"p":-7.8},{"s":"FT2","t":25,"p":-7.9},{"s":"FT2","t":30,"p":-8},{"s":"FT2","t":34,"p":-7.6},{"s":"FT2","t":37,"p":-7.8},{"s":"FT2","t":40,"p":-8.6},{"s":"FT2","t":43,"p":-9},{"s":"FT2","t":46,"p":-8.7},{"s":"FT2","t":49,"p":-8},{"s":"FT2","t":52,"p":-6.8},{"s":"FT2","t":55,"p":-5.6},{"s":"FT2","t":58,"p":-4.3},{"s":"FT2","t":61,"p":-3.2},{"s":"FT2","t":64,"p":-2.3},{"s":"FT2","t":67,"p":-1.6},{"s":"FT2","t":70,"p":-1},{"s":"FT2","t":74,"p":-0.5},{"s":"FT2","t":78,"p":0.3},{"s":"FT2","t":82,"p":0.6},{"s":"FT2","t":86,"p":1.2},{"s":"FT2","t":90,"p":1.7},{"s":"FT2","t":94,"p":2.4},{"s":"FT2","t":98,"p":2.9},{"s":"FT2","t":102,"p":3.1},{"s":"FT2","t":106,"p":3.2},{"s":"FT2","t":110,"p":3.5},{"s":"FT2","t":114,"p":3.7},{"s":"FT2","t":118,"p":4},{"s":"FT2","t":122,"p":4.1},{"s":"FT2","t":126,"p":4.3},{"s":"FT2","t":130,"p":4.2},{"s":"FT2","t":135,"p":4.2},{"s":"FT2","t":140,"p":4.3},{"s":"FT2","t":145,"p":4.4},{"s":"FT2","t":150,"p":4.4},{"s":"FT2","t":155,"p":4.6},{"s":"FT2","t":160,"p":5.4},{"s":"FT2","t":165,"p":6},{"s":"FT2","t":170,"p":6.6},{"s":"FT2","t":175,"p":6.9},{"s":"FT2","t":180,"p":7},{"s":"FT2","t":185,"p":7},{"s":"FT2","t":190,"p":6.9},{"s":"FT2","t":195,"p":7},{"s":"FT2","t":200,"p":7.1},{"s":"FT2","t":205,"p":7.1},{"s":"FT2","t":210,"p":7.2},{"s":"FT2","t":215,"p":7.4},{"s":"FT2","t":219,"p":8},{"s":"FT2","t":221,"p":7.2},{"s":"FT2","t":223,"p":5.5},{"s":"FT2","t":225,"p":3.5},{"s":"FT2","t":227,"p":1},{"s":"FT2","t":229,"p":-2},{"s":"FT2","t":231,"p":-4.5},{"s":"FT2","t":234,"p":-5.3},{"s":"FT2","t":238,"p":-5.6},{"s":"FT2","t":242,"p":-6.2},{"s":"FT2","t":246,"p":-6.8},{"s":"FT2","t":250,"p":-7.3},{"s":"FT2","t":255,"p":-7.6},{"s":"FT2","t":259,"p":-7.8},
{"s":"FT3","t":0,"p":-8.5},{"s":"FT3","t":4,"p":-7.6},{"s":"FT3","t":8,"p":-7.3},{"s":"FT3","t":12,"p":-7.4},{"s":"FT3","t":16,"p":-7.6},{"s":"FT3","t":20,"p":-7.6},{"s":"FT3","t":24,"p":-7.8},{"s":"FT3","t":28,"p":-8},{"s":"FT3","t":32,"p":-7.9},{"s":"FT3","t":36,"p":-7.8},{"s":"FT3","t":40,"p":-7.8},{"s":"FT3","t":44,"p":-8},{"s":"FT3","t":48,"p":-7.7},{"s":"FT3","t":52,"p":-7.2},{"s":"FT3","t":56,"p":-6.3},{"s":"FT3","t":60,"p":-5.2},{"s":"FT3","t":64,"p":-4.9},{"s":"FT3","t":68,"p":-4.5},{"s":"FT3","t":72,"p":-3.9},{"s":"FT3","t":76,"p":-3.3},{"s":"FT3","t":80,"p":-2.7},{"s":"FT3","t":85,"p":-2},{"s":"FT3","t":90,"p":-1.4},{"s":"FT3","t":95,"p":-1},{"s":"FT3","t":100,"p":-0.4},{"s":"FT3","t":103,"p":0.3},{"s":"FT3","t":106,"p":0.1},{"s":"FT3","t":110,"p":0.5},{"s":"FT3","t":115,"p":1},{"s":"FT3","t":120,"p":1.5},{"s":"FT3","t":125,"p":2},{"s":"FT3","t":130,"p":2.4},{"s":"FT3","t":135,"p":2.7},{"s":"FT3","t":140,"p":2.9},{"s":"FT3","t":143,"p":2.5},{"s":"FT3","t":146,"p":3},{"s":"FT3","t":149,"p":2.4},{"s":"FT3","t":152,"p":3},{"s":"FT3","t":155,"p":4.5},{"s":"FT3","t":160,"p":5.5},{"s":"FT3","t":165,"p":6.2},{"s":"FT3","t":170,"p":6.6},{"s":"FT3","t":175,"p":6.8},{"s":"FT3","t":180,"p":7.2},{"s":"FT3","t":185,"p":7.5},{"s":"FT3","t":188,"p":7},{"s":"FT3","t":192,"p":6.9},{"s":"FT3","t":196,"p":7.1},{"s":"FT3","t":200,"p":7.3},{"s":"FT3","t":205,"p":7.3},{"s":"FT3","t":210,"p":7.3},{"s":"FT3","t":214,"p":7.6},{"s":"FT3","t":217,"p":9},{"s":"FT3","t":219,"p":11.5},{"s":"FT3","t":221,"p":11},{"s":"FT3","t":223,"p":8},{"s":"FT3","t":225,"p":4},{"s":"FT3","t":227,"p":0},{"s":"FT3","t":229,"p":-3.5},{"s":"FT3","t":231,"p":-5.3},{"s":"FT3","t":235,"p":-6},{"s":"FT3","t":240,"p":-6.8},{"s":"FT3","t":245,"p":-7.5},{"s":"FT3","t":250,"p":-8},{"s":"FT3","t":255,"p":-8.3},{"s":"FT3","t":259,"p":-8.7},
{"s":"FT4","t":0,"p":-8.5},{"s":"FT4","t":4,"p":-7.3},{"s":"FT4","t":8,"p":-6.9},{"s":"FT4","t":12,"p":-6.8},{"s":"FT4","t":16,"p":-7},{"s":"FT4","t":20,"p":-7.2},{"s":"FT4","t":25,"p":-7.2},{"s":"FT4","t":30,"p":-7.2},{"s":"FT4","t":35,"p":-7},{"s":"FT4","t":38,"p":-6.5},{"s":"FT4","t":41,"p":-5.2},{"s":"FT4","t":44,"p":-3.5},{"s":"FT4","t":47,"p":-1.8},{"s":"FT4","t":50,"p":0},{"s":"FT4","t":53,"p":2},{"s":"FT4","t":56,"p":3.8},{"s":"FT4","t":59,"p":5.5},{"s":"FT4","t":62,"p":6.9},{"s":"FT4","t":65,"p":8},{"s":"FT4","t":68,"p":9},{"s":"FT4","t":71,"p":9.8},{"s":"FT4","t":75,"p":10.5},{"s":"FT4","t":80,"p":11.3},{"s":"FT4","t":85,"p":11.9},{"s":"FT4","t":90,"p":12.4},{"s":"FT4","t":95,"p":12.8},{"s":"FT4","t":100,"p":13.1},{"s":"FT4","t":105,"p":13.5},{"s":"FT4","t":110,"p":13.8},{"s":"FT4","t":115,"p":14.2},{"s":"FT4","t":120,"p":14.5},{"s":"FT4","t":125,"p":14.8},{"s":"FT4","t":130,"p":15},{"s":"FT4","t":135,"p":15.1},{"s":"FT4","t":140,"p":15.3},{"s":"FT4","t":145,"p":15.6},{"s":"FT4","t":150,"p":15.9},{"s":"FT4","t":155,"p":16.3},{"s":"FT4","t":160,"p":16.6},{"s":"FT4","t":165,"p":16.9},{"s":"FT4","t":170,"p":17.1},{"s":"FT4","t":175,"p":17.3},{"s":"FT4","t":180,"p":17.5},{"s":"FT4","t":185,"p":17.7},{"s":"FT4","t":190,"p":17.8},{"s":"FT4","t":195,"p":18},{"s":"FT4","t":200,"p":18},{"s":"FT4","t":205,"p":18.1},{"s":"FT4","t":210,"p":18.2},{"s":"FT4","t":215,"p":18.3},{"s":"FT4","t":218,"p":18.5},{"s":"FT4","t":220,"p":18.8},{"s":"FT4","t":222,"p":17.5},{"s":"FT4","t":224,"p":12},{"s":"FT4","t":226,"p":5},{"s":"FT4","t":228,"p":-1},{"s":"FT4","t":230,"p":-4.5},{"s":"FT4","t":234,"p":-5.2},{"s":"FT4","t":238,"p":-5.6},{"s":"FT4","t":242,"p":-6.2},{"s":"FT4","t":246,"p":-6.8},{"s":"FT4","t":250,"p":-7.2},{"s":"FT4","t":255,"p":-7.6},{"s":"FT4","t":259,"p":-7.8}
],
"lf": [
{"s":"FT1","t":0,"p":-0.2},{"s":"FT1","t":3,"p":0.5},{"s":"FT1","t":6,"p":0.9},{"s":"FT1","t":10,"p":1.2},{"s":"FT1","t":14,"p":1.4},{"s":"FT1","t":18,"p":1.6},{"s":"FT1","t":22,"p":1.7},{"s":"FT1","t":25,"p":1.9},{"s":"FT1","t":28,"p":2.5},{"s":"FT1","t":30,"p":3.2},{"s":"FT1","t":31,"p":2.5},{"s":"FT1","t":33,"p":-0.5},{"s":"FT1","t":35,"p":-3.5},{"s":"FT1","t":37,"p":-5.2},{"s":"FT1","t":39,"p":-4.6},{"s":"FT1","t":42,"p":-3.5},{"s":"FT1","t":45,"p":-2.7},{"s":"FT1","t":48,"p":-2},{"s":"FT1","t":52,"p":-1.4},{"s":"FT1","t":56,"p":-0.8},{"s":"FT1","t":60,"p":-0.3},{"s":"FT1","t":65,"p":0.2},{"s":"FT1","t":70,"p":0.6},{"s":"FT1","t":75,"p":1},{"s":"FT1","t":80,"p":1.4},{"s":"FT1","t":85,"p":1.9},{"s":"FT1","t":90,"p":2.4},{"s":"FT1","t":95,"p":2.9},{"s":"FT1","t":100,"p":3.3},{"s":"FT1","t":105,"p":3.8},{"s":"FT1","t":110,"p":4.1},{"s":"FT1","t":115,"p":4.4},{"s":"FT1","t":120,"p":4.7},{"s":"FT1","t":125,"p":4.8},{"s":"FT1","t":130,"p":4.8},{"s":"FT1","t":135,"p":5},{"s":"FT1","t":140,"p":5},{"s":"FT1","t":145,"p":4.8},{"s":"FT1","t":150,"p":4.4},{"s":"FT1","t":155,"p":4.4},{"s":"FT1","t":160,"p":4.6},{"s":"FT1","t":163,"p":4.3},{"s":"FT1","t":166,"p":4.1},{"s":"FT1","t":170,"p":4.3},{"s":"FT1","t":175,"p":4.5},{"s":"FT1","t":180,"p":4.6},{"s":"FT1","t":185,"p":4.5},{"s":"FT1","t":190,"p":4.4},{"s":"FT1","t":195,"p":4.6},{"s":"FT1","t":200,"p":4.6},{"s":"FT1","t":205,"p":4.5},{"s":"FT1","t":210,"p":4.6},{"s":"FT1","t":214,"p":4.8},{"s":"FT1","t":218,"p":5.3},{"s":"FT1","t":220,"p":5.6},{"s":"FT1","t":222,"p":5.3},{"s":"FT1","t":224,"p":3},{"s":"FT1","t":226,"p":0},{"s":"FT1","t":228,"p":-3},{"s":"FT1","t":230,"p":-5.5},{"s":"FT1","t":232,"p":-6.6},{"s":"FT1","t":234,"p":-6.4},{"s":"FT1","t":236,"p":-5},{"s":"FT1","t":238,"p":-3.2},{"s":"FT1","t":240,"p":-3.6},{"s":"FT1","t":244,"p":-3.8},{"s":"FT1","t":248,"p":-3.9},{"s":"FT1","t":252,"p":-3.9},{"s":"FT1","t":256,"p":-4},{"s":"FT1","t":260,"p":-4.1},{"s":"FT1","t":263,"p":-4.3},{"s":"FT1","t":265,"p":-4.6},
{"s":"FT2","t":0,"p":-4.3},{"s":"FT2","t":4,"p":-4.2},{"s":"FT2","t":8,"p":-3.9},{"s":"FT2","t":12,"p":-3.8},{"s":"FT2","t":16,"p":-3.9},{"s":"FT2","t":20,"p":-4.4},{"s":"FT2","t":24,"p":-4.4},{"s":"FT2","t":27,"p":-4.5},{"s":"FT2","t":29,"p":-5.5},{"s":"FT2","t":31,"p":-6.3},{"s":"FT2","t":33,"p":-6.4},{"s":"FT2","t":35,"p":-5.6},{"s":"FT2","t":38,"p":-4.3},{"s":"FT2","t":41,"p":-3.8},{"s":"FT2","t":44,"p":-3.8},{"s":"FT2","t":48,"p":-4.2},{"s":"FT2","t":52,"p":-4.9},{"s":"FT2","t":56,"p":-5.6},{"s":"FT2","t":60,"p":-6.2},{"s":"FT2","t":65,"p":-6.7},{"s":"FT2","t":70,"p":-7},{"s":"FT2","t":75,"p":-7.3},{"s":"FT2","t":80,"p":-7.6},{"s":"FT2","t":85,"p":-7.8},{"s":"FT2","t":90,"p":-8},{"s":"FT2","t":95,"p":-8.1},{"s":"FT2","t":100,"p":-8.1},{"s":"FT2","t":105,"p":-8},{"s":"FT2","t":110,"p":-8},{"s":"FT2","t":115,"p":-8},{"s":"FT2","t":120,"p":-8},{"s":"FT2","t":125,"p":-7.9},{"s":"FT2","t":130,"p":-7.8},{"s":"FT2","t":135,"p":-7.8},{"s":"FT2","t":140,"p":-7.8},{"s":"FT2","t":145,"p":-7.7},{"s":"FT2","t":150,"p":-7.7},{"s":"FT2","t":155,"p":-7.8},{"s":"FT2","t":160,"p":-7.8},{"s":"FT2","t":165,"p":-7.7},{"s":"FT2","t":170,"p":-7.7},{"s":"FT2","t":175,"p":-7.6},{"s":"FT2","t":180,"p":-7.5},{"s":"FT2","t":185,"p":-7.5},{"s":"FT2","t":190,"p":-7.5},{"s":"FT2","t":195,"p":-7.4},{"s":"FT2","t":200,"p":-7.3},{"s":"FT2","t":204,"p":-7.4},{"s":"FT2","t":207,"p":-7.8},{"s":"FT2","t":210,"p":-8.3},{"s":"FT2","t":213,"p":-7.9},{"s":"FT2","t":216,"p":-7.4},{"s":"FT2","t":219,"p":-7.3},{"s":"FT2","t":222,"p":-7.6},{"s":"FT2","t":224,"p":-8.5},{"s":"FT2","t":226,"p":-10},{"s":"FT2","t":228,"p":-12.5},{"s":"FT2","t":230,"p":-14.5},{"s":"FT2","t":232,"p":-14.3},{"s":"FT2","t":234,"p":-12.8},{"s":"FT2","t":236,"p":-11.6},{"s":"FT2","t":238,"p":-11},{"s":"FT2","t":241,"p":-11.5},{"s":"FT2","t":244,"p":-12.5},{"s":"FT2","t":248,"p":-14},{"s":"FT2","t":252,"p":-15.2},{"s":"FT2","t":256,"p":-16.3},{"s":"FT2","t":259,"p":-17.5},{"s":"FT2","t":261,"p":-17.8},{"s":"FT2","t":263,"p":-17.5},{"s":"FT2","t":265,"p":-17.2},
{"s":"FT3","t":0,"p":-17.8},{"s":"FT3","t":4,"p":-17.6},{"s":"FT3","t":8,"p":-17.3},{"s":"FT3","t":12,"p":-17.2},{"s":"FT3","t":16,"p":-17},{"s":"FT3","t":20,"p":-16.5},{"s":"FT3","t":24,"p":-16},{"s":"FT3","t":27,"p":-15.7},{"s":"FT3","t":29,"p":-15.8},{"s":"FT3","t":31,"p":-16.6},{"s":"FT3","t":34,"p":-17.6},{"s":"FT3","t":36,"p":-17.8},{"s":"FT3","t":39,"p":-17},{"s":"FT3","t":42,"p":-16.8},{"s":"FT3","t":45,"p":-17.2},{"s":"FT3","t":50,"p":-17.3},{"s":"FT3","t":55,"p":-17.6},{"s":"FT3","t":60,"p":-18},{"s":"FT3","t":65,"p":-18.5},{"s":"FT3","t":70,"p":-19.2},{"s":"FT3","t":75,"p":-19.5},{"s":"FT3","t":80,"p":-19.2},{"s":"FT3","t":85,"p":-18.8},{"s":"FT3","t":88,"p":-18.9},{"s":"FT3","t":91,"p":-18.6},{"s":"FT3","t":94,"p":-18.7},{"s":"FT3","t":97,"p":-18.4},{"s":"FT3","t":100,"p":-18.6},{"s":"FT3","t":104,"p":-18.2},{"s":"FT3","t":108,"p":-18},{"s":"FT3","t":112,"p":-17.8},{"s":"FT3","t":116,"p":-17.6},{"s":"FT3","t":120,"p":-17.2},{"s":"FT3","t":124,"p":-16.8},{"s":"FT3","t":128,"p":-16.4},{"s":"FT3","t":132,"p":-16.3},{"s":"FT3","t":136,"p":-16.2},{"s":"FT3","t":140,"p":-16.1},{"s":"FT3","t":144,"p":-15.8},{"s":"FT3","t":148,"p":-16},{"s":"FT3","t":152,"p":-16.4},{"s":"FT3","t":156,"p":-16.7},{"s":"FT3","t":160,"p":-17},{"s":"FT3","t":164,"p":-16.6},{"s":"FT3","t":168,"p":-16.4},{"s":"FT3","t":172,"p":-16.5},{"s":"FT3","t":176,"p":-16.7},{"s":"FT3","t":180,"p":-16.6},{"s":"FT3","t":185,"p":-16.8},{"s":"FT3","t":190,"p":-16.5},{"s":"FT3","t":195,"p":-16.2},{"s":"FT3","t":200,"p":-15.7},{"s":"FT3","t":202,"p":-16.3},{"s":"FT3","t":205,"p":-17.8},{"s":"FT3","t":207,"p":-18.6},{"s":"FT3","t":210,"p":-18.2},{"s":"FT3","t":212,"p":-17.5},{"s":"FT3","t":215,"p":-17.8},{"s":"FT3","t":218,"p":-17},{"s":"FT3","t":220,"p":-16.8},{"s":"FT3","t":222,"p":-16.1},{"s":"FT3","t":224,"p":-16.8},{"s":"FT3","t":226,"p":-18},{"s":"FT3","t":228,"p":-19},{"s":"FT3","t":231,"p":-20},{"s":"FT3","t":233,"p":-20.6}
]
},
"vconcat": [
{"hconcat": [
{"width": 277, "height": 220,
 "title": {"text": "(a)", "orient": "bottom", "dx": -20, "offset": 12},
 "layer": [
  {"data": {"values": [{"x1":-25,"x2":135,"lab":"-10?"},{"x1":135,"x2":208,"lab":"-20?"},{"x1":208,"x2":261,"lab":"30?"}]},
   "mark": {"type": "rect"},
   "encoding": {"x": {"field":"x1","type":"quantitative"},"x2":{"field":"x2"},"y":{"datum":-25.5,"type":"quantitative"},"y2":{"datum":-30},
    "fill": {"field":"lab","type":"nominal","legend":null,"scale":{"domain":["-10?","-20?","30?"],"range":["#74c1fa","#3a88d9","#f5141e"]}}}},
  {"data": {"values": [{"xm":55,"lab":"-10?"},{"xm":171,"lab":"-20?"},{"xm":234,"lab":"30?"}]},
   "mark": {"type": "text","fontSize": 13},
   "encoding": {"x": {"field":"xm","type":"quantitative"},"y":{"datum":-27.8,"type":"quantitative"},"text":{"field":"lab"}}},
  {"data": {"values": [{"x":135},{"x":208}]},
   "mark": {"type":"rule","color":"#f4505a","strokeDash":[7,4],"strokeWidth":1.6},
   "encoding": {"x":{"field":"x","type":"quantitative"},"y":{"datum":24,"type":"quantitative"},"y2":{"datum":-25.5}}},
  {"data": {"values": [{"y":23.7,"x1":-25,"x2":210},{"y":3.5,"x1":-25,"x2":218}]},
   "mark": {"type":"rule","color":"#a8a8a8","strokeDash":[10,5],"strokeWidth":1.2},
   "encoding": {"x":{"field":"x1","type":"quantitative"},"x2":{"field":"x2"},"y":{"field":"y","type":"quantitative"}}},
  {"data": {"values": [{"x1":27,"x2":53,"y1":7.7,"y2":-23.3}]},
   "mark": {"type":"rect","fillOpacity":0,"stroke":"#888888","strokeWidth":1,"strokeDash":[4,2,1,2]},
   "encoding": {"x":{"field":"x1","type":"quantitative"},"x2":{"field":"x2"},"y":{"field":"y1","type":"quantitative"},"y2":{"field":"y2"}}},
  {"data": {"name": "la"},
   "mark": {"type":"line","strokeWidth":1.8},
   "encoding": {
    "x": {"field":"t","type":"quantitative","scale":{"domain":[-25,260],"nice":false,"zero":false},"axis":{"values":[0,25,50,75,100,125,150,175,200,225,250],"tickCount":40,"format":"d","labelExpr":"datum.value % 50 === 0 ? datum.label : ' '","labelOverlap":false,"tickSize":{"condition":{"test":"datum.value % 50 !== 0","value":2.5},"value":4.5},"title":"Single Cycle Time (h)"}},
    "y": {"field":"p","type":"quantitative","scale":{"domain":[-30,30],"nice":false,"zero":false},"axis":{"values":[-30,-25,-20,-15,-10,-5,0,5,10,15,20,25,30],"tickCount":40,"format":"d","labelExpr":"datum.value % 10 === 0 ? datum.label : ' '","labelOverlap":false,"tickSize":{"condition":{"test":"datum.value % 10 !== 0","value":2.5},"value":4.5},"title":"Relative Soil Pressure (kPa)"}},
    "color": {"field":"s","type":"nominal","scale":{"domain":["FT1","FT2","FT3","FT4","FT5"],"range":["#505050","#ee3a3a","#1d63d8","#fbb814","#72d07e"]},"legend":{"title":null,"orient":"none","legendX":245,"legendY":15,"rowPadding":0}}}},
  {"data": {"values": [{"x":77,"y":11.5,"x2":147,"y2":18.8,"ang":68},{"x":127,"y":-15.5,"x2":191,"y2":-4.7,"ang":57.5},{"x":123,"y":-16,"x2":123,"y2":-10.5,"ang":0}]},
   "layer": [
    {"mark": {"type":"rule","color":"black","strokeWidth":1},
     "encoding": {"x":{"field":"x","type":"quantitative"},"y":{"field":"y","type":"quantitative"},"x2":{"field":"x2"},"y2":{"field":"y2"}}},
    {"mark": {"type":"point","shape":"wedge","filled":true,"color":"black","size":50,"opacity":1},
     "encoding": {"x":{"field":"x2","type":"quantitative"},"y":{"field":"y2","type":"quantitative"},"angle":{"field":"ang","type":"quantitative","scale":null}}}
   ]},
  {"data": {"values": [{"x":197,"y":23.5,"x2":197,"y2":-2.3,"ang":180}]},
   "layer": [
    {"mark": {"type":"rule","color":"#f2b120","strokeWidth":1.5},
     "encoding": {"x":{"field":"x","type":"quantitative"},"y":{"field":"y","type":"quantitative"},"x2":{"field":"x2"},"y2":{"field":"y2"}}},
    {"mark": {"type":"point","shape":"wedge","filled":true,"color":"#f2b120","size":50,"opacity":1},
     "encoding": {"x":{"field":"x2","type":"quantitative"},"y":{"field":"y2","type":"quantitative"},"angle":{"field":"ang","type":"quantitative","scale":null}}}
   ]},
  {"data": {"values": [{"x":224,"y":17.7,"x2":229.5,"y2":1.8,"ang":175}]},
   "layer": [
    {"mark": {"type":"rule","color":"#ee3a3a","strokeWidth":1.5},
     "encoding": {"x":{"field":"x","type":"quantitative"},"y":{"field":"y","type":"quantitative"},"x2":{"field":"x2"},"y2":{"field":"y2"}}},
    {"mark": {"type":"point","shape":"wedge","filled":true,"color":"#ee3a3a","size":50,"opacity":1},
     "encoding": {"x":{"field":"x2","type":"quantitative"},"y":{"field":"y2","type":"quantitative"},"angle":{"field":"ang","type":"quantitative","scale":null}}}
   ]},
  {"data": {"values": [{"x":175,"y":26,"txt":"Circular decrease"},{"x":75,"y":20.3,"txt":"Pressure decrease"},{"x":103,"y":-22,"txt":"Platform"}]},
   "mark": {"type":"text","fontSize":12.5},
   "encoding": {"x":{"field":"x","type":"quantitative"},"y":{"field":"y","type":"quantitative"},"text":{"field":"txt"}}},
  {"data": {"values": [{"x":-13,"y":27,"txt":"S20-E1"}]},
   "mark": {"type":"text","fontSize":15,"align":"left","color":"#f0506e"},
   "encoding": {"x":{"field":"x","type":"quantitative"},"y":{"field":"y","type":"quantitative"},"text":{"field":"txt"}}}
 ]},
{"width": 269, "height": 222,
 "title": {"text": "(b)", "orient": "bottom", "dx": -16, "offset": 12},
 "layer": [
  {"data": {"values": [{"x1":-25,"x2":144,"lab":"-10□"},{"x1":144,"x2":218,"lab":"-20□"},{"x1":218,"x2":266,"lab":"30□"}]},
   "mark": {"type": "rect"},
   "encoding": {"x": {"field":"x1","type":"quantitative"},"x2":{"field":"x2"},"y":{"datum":-0.15,"type":"quantitative"},"y2":{"datum":-1.1},
    "fill": {"field":"lab","type":"nominal","legend":null,"scale":{"domain":["-10□","-20□","30□"],"range":["#74c1fa","#3a88d9","#f20f0f"]}}}},
  {"data": {"values": [{"xm":64,"lab":"-10□"},{"xm":178,"lab":"-20□"},{"xm":244,"lab":"30□"}]},
   "mark": {"type": "text","fontSize": 13,"fontWeight":"bold"},
   "encoding": {"x": {"field":"xm","type":"quantitative"},"y":{"datum":-0.62,"type":"quantitative"},"text":{"field":"lab"}}},
  {"data": {"values": [{"x":144},{"x":218}]},
   "mark": {"type":"rule","color":"#f47c7c","strokeDash":[7,4],"strokeWidth":1.3},
   "encoding": {"x":{"field":"x","type":"quantitative"},"y":{"datum":10.8,"type":"quantitative"},"y2":{"datum":-0.15}}},
  {"data": {"values": [{"x":34,"y":0.2,"x2":39.5,"y2":2.4},{"x":232,"y":3.7,"x2":236.5,"y2":1.3}]},
   "mark": {"type":"rule","color":"#1a1a8a","strokeDash":[6,2,2,2],"strokeWidth":1.5},
   "encoding": {"x":{"field":"x","type":"quantitative"},"y":{"field":"y","type":"quantitative"},"x2":{"field":"x2"},"y2":{"field":"y2"}}},
  {"data": {"name": "lb"},
   "mark": {"type":"line","strokeWidth":1.8},
   "encoding": {
    "x": {"field":"t","type":"quantitative","scale":{"domain":[-25,300],"nice":false,"zero":false},"axis":{"values":[0,25,50,75,100,125,150,175,200,225,250,275,300],"tickCount":40,"format":"d","labelExpr":"datum.value % 50 === 0 ? datum.label : ' '","labelOverlap":false,"tickSize":{"condition":{"test":"datum.value % 50 !== 0","value":2.5},"value":4.5},"title":"Single Cycle Time (h)"}},
    "y": {"field":"p","type":"quantitative","scale":{"domain":[-1.1,11],"nice":false,"zero":false},"axis":{"values":[-1,0,1,2,3,4,5,6,7,8,9,10,11],"tickCount":40,"format":"d","labelExpr":"datum.value % 2 === 0 ? datum.label : ' '","labelOverlap":false,"tickSize":{"condition":{"test":"datum.value % 2 !== 0","value":2.5},"value":4.5},"title":"Relative Soil Pressure (kPa)"}},
    "color": {"field":"s","type":"nominal","scale":{"domain":["FT1","FT2","FT3"],"range":["#000000","#ff1a1a","#1a8fc9"]},"legend":{"title":null,"orient":"none","legendX":205,"legendY":17,"rowPadding":4}}}},
  {"data": {"values": [{"x":30,"y":3.6,"x2":36,"y2":2.5,"ang":166},{"x":244,"y":5.2,"x2":231,"y2":3.8,"ang":203},{"x":118,"y":2.6,"x2":116,"y2":4.7,"ang":-2}]},
   "layer": [
    {"mark": {"type":"rule","color":"black","strokeWidth":1.3},
     "encoding": {"x":{"field":"x","type":"quantitative"},"y":{"field":"y","type":"quantitative"},"x2":{"field":"x2"},"y2":{"field":"y2"}}},
    {"mark": {"type":"point","shape":"wedge","filled":true,"color":"black","size":50,"opacity":1},
     "encoding": {"x":{"field":"x2","type":"quantitative"},"y":{"field":"y2","type":"quantitative"},"angle":{"field":"ang","type":"quantitative","scale":null}}}
   ]},
  {"data": {"values": [{"x":116,"y":4.8},{"x":116,"y":3.15},{"x":118,"y":2.6}]},
   "mark": {"type":"point","shape":"circle","filled":false,"color":"#e8308f","strokeWidth":1.3,"size":40,"opacity":1},
   "encoding": {"x":{"field":"x","type":"quantitative"},"y":{"field":"y","type":"quantitative"}}},
  {"data": {"values": [{"x":66,"y":5.5,"txt":"Pressure increase"},{"x":18,"y":4.0,"txt":"Ice form"},{"x":261,"y":5.2,"txt":"Liquid pressure"}]},
   "mark": {"type":"text","fontSize":12},
   "encoding": {"x":{"field":"x","type":"quantitative"},"y":{"field":"y","type":"quantitative"},"text":{"field":"txt"}}},
  {"data": {"values": [{"x":-13,"y":10.4,"txt":"S20-E2"}]},
   "mark": {"type":"text","fontSize":15,"align":"left","color":"#f0506e"},
   "encoding": {"x":{"field":"x","type":"quantitative"},"y":{"field":"y","type":"quantitative"},"text":{"field":"txt"}}}
 ]}
],
"spacing": 31,
"resolve": {"scale": {"color":"independent","fill":"independent"}, "legend": {"color":"independent"}}},
{"vconcat": [
{"hconcat": [
{"width": 269, "height": 225,
 "title": {"text": "(c)", "orient": "bottom", "dx": -25, "offset": 26},
 "layer": [
  {"data": {"values": [{"x1":-25,"x2":143,"lab":"-10□"},{"x1":143,"x2":216,"lab":"-20□"},{"x1":216,"x2":263.6,"lab":"30□"}]},
   "mark": {"type": "rect"},
   "encoding": {"x": {"field":"x1","type":"quantitative"},"x2":{"field":"x2"},"y":{"datum":-8,"type":"quantitative"},"y2":{"datum":-10},
    "fill": {"field":"lab","type":"nominal","legend":null,"scale":{"domain":["-10□","-20□","30□"],"range":["#74c1fa","#3a88d9","#f20f0f"]}}}},
  {"data": {"values": [{"xm":58,"lab":"-10□"},{"xm":179,"lab":"-20□"},{"xm":238.6,"lab":"30□"}]},
   "mark": {"type": "text","fontSize": 13,"fontWeight":"bold"},
   "encoding": {"x": {"field":"xm","type":"quantitative"},"y":{"datum":-9,"type":"quantitative"},"text":{"field":"lab"}}},
  {"data": {"values": [{"x":143},{"x":216}]},
   "mark": {"type":"rule","color":"#f47c7c","strokeDash":[7,4],"strokeWidth":1.3},
   "encoding": {"x":{"field":"x","type":"quantitative"},"y":{"datum":14.3,"type":"quantitative"},"y2":{"datum":-8}}},
  {"data": {"values": [{"x":24,"y":-4.4,"x2":29.3,"y2":2.7},{"x":231.9,"y":-4.9,"x2":233.8,"y2":2.6}]},
   "mark": {"type":"rule","color":"#1a1a8a","strokeDash":[6,2,2,2],"strokeWidth":1.6},
   "encoding": {"x":{"field":"x","type":"quantitative"},"y":{"field":"y","type":"quantitative"},"x2":{"field":"x2"},"y2":{"field":"y2"}}},
  {"data": {"name": "lc"},
   "mark": {"type":"line","strokeWidth":1.8},
   "encoding": {
    "x": {"field":"t","type":"quantitative","scale":{"domain":[-20,300],"nice":false,"zero":false},"axis":{"values":[0,25,50,75,100,125,150,175,200,225,250,275,300],"tickCount":40,"format":"d","labelExpr":"datum.value % 50 === 0 ? datum.label : ' '","labelOverlap":false,"tickSize":{"condition":{"test":"datum.value % 50 !== 0","value":2.5},"value":4.5},"title":"Single Cycle Time (h)"}},
    "y": {"field":"p","type":"quantitative","scale":{"domain":[-10,15],"nice":false,"zero":false},"axis":{"values":[-10,-7.5,-5,-2.5,0,2.5,5,7.5,10,12.5,15],"tickCount":40,"format":"d","labelExpr":"datum.value % 5 === 0 ? datum.label : ' '","labelOverlap":false,"tickSize":{"condition":{"test":"datum.value % 5 !== 0","value":2.5},"value":4.5},"title":"Relative  Soil Pressure (kPa)"}},
    "color": {"field":"s","type":"nominal","scale":{"domain":["FT1","FT2","FT3","FT4"],"range":["#000000","#ff1a1a","#1a8fc9","#e8c317"]},"legend":{"title":null,"orient":"none","legendX":222,"legendY":12,"rowPadding":1.5}}}},
  {"data": {"values": [{"x":23,"y":5.2,"x2":29,"y2":2.9,"ang":166},{"x":242.5,"y":3.5,"x2":233,"y2":2.4,"ang":219},{"x":245,"y":0.4,"x2":245,"y2":-4.3,"ang":180}]},
   "layer": [
    {"mark": {"type":"rule","color":"black","strokeWidth":1.3},
     "encoding": {"x":{"field":"x","type":"quantitative"},"y":{"field":"y","type":"quantitative"},"x2":{"field":"x2"},"y2":{"field":"y2"}}},
    {"mark": {"type":"point","shape":"wedge","filled":true,"color":"black","size":50,"opacity":1},
     "encoding": {"x":{"field":"x2","type":"quantitative"},"y":{"field":"y2","type":"quantitative"},"angle":{"field":"ang","type":"quantitative","scale":null}}}
   ]},
  {"data": {"values": [{"x":245,"y":0.4},{"x":245,"y":-1.7},{"x":245,"y":-2.6},{"x":245,"y":-4.5}]},
   "mark": {"type":"point","shape":"circle","filled":false,"color":"#e8308f","strokeWidth":1.3,"size":40,"opacity":1},
   "encoding": {"x":{"field":"x","type":"quantitative"},"y":{"field":"y","type":"quantitative"}}},
  {"data": {"values": [{"x":13,"y":6.3,"txt":"Ice form"},{"x":272,"y":5.2,"txt":"Liquid pressure"},{"x":193,"y":-6,"txt":"Pressure decrease"}]},
   "mark": {"type":"text","fontSize":12.5},
   "encoding": {"x":{"field":"x","type":"quantitative"},"y":{"field":"y","type":"quantitative"},"text":{"field":"txt"}}},
  {"data": {"values": [{"x":-16,"y":13.8,"txt":"S20-E3"}]},
   "mark": {"type":"text","fontSize":15,"align":"left","color":"#f0506e"},
   "encoding": {"x":{"field":"x","type":"quantitative"},"y":{"field":"y","type":"quantitative"},"text":{"field":"txt"}}}
 ]},
{"width": 278, "height": 228,
 "title": {"text": "(d)", "orient": "bottom", "dx": -14, "offset": 24},
 "layer": [
  {"data": {"values": [{"x1":-25,"x2":144.7,"lab":"-10□"},{"x1":144.7,"x2":216,"lab":"-20□"},{"x1":216,"x2":264,"lab":"30□"}]},
   "mark": {"type": "rect"},
   "encoding": {"x": {"field":"x1","type":"quantitative"},"x2":{"field":"x2"},"y":{"datum":3.3,"type":"quantitative"},"y2":{"datum":0},
    "fill": {"field":"lab","type":"nominal","legend":null,"scale":{"domain":["-10□","-20□","30□"],"range":["#74c1fa","#3a88d9","#f20f0f"]}}}},
  {"data": {"values": [{"x":144.7,"top":36.6},{"x":216,"top":38.5}]},
   "mark": {"type":"rule","color":"#f47c7c","strokeDash":[7,4],"strokeWidth":1.3},
   "encoding": {"x":{"field":"x","type":"quantitative"},"y":{"field":"top","type":"quantitative"},"y2":{"datum":3.3}}},
  {"data": {"name": "ld"},
   "mark": {"type":"line","strokeWidth":1.8},
   "encoding": {
    "x": {"field":"t","type":"quantitative","scale":{"domain":[-25,300],"nice":false,"zero":false},"axis":{"values":[0,25,50,75,100,125,150,175,200,225,250,275,300],"tickCount":40,"format":"d","labelExpr":"datum.value % 50 === 0 ? datum.label : ' '","labelOverlap":false,"tickSize":{"condition":{"test":"datum.value % 50 !== 0","value":2.5},"value":4.5},"titlePadding":9,"title":"Single Cycle Time (h)"}},
    "y": {"field":"p","type":"quantitative","scale":{"domain":[0,40],"nice":false,"zero":false},"axis":{"values":[2.5,5,7.5,10,12.5,15,17.5,20,22.5,25,27.5,30,32.5,35,37.5,40],"tickCount":40,"format":"d","labelExpr":"datum.value % 5 === 0 ? datum.label : ' '","labelOverlap":false,"tickSize":{"condition":{"test":"datum.value % 5 !== 0","value":2.5},"value":4.5},"title":"Relative Soil Pressure (kPa)"}},
    "color": {"field":"s","type":"nominal","scale":{"domain":["FT1","FT2","FT3","FT4","FT5"],"range":["#000000","#ff1a1a","#1aa88a","#57c3f0","#e6c21a"]},"legend":{"title":null,"orient":"none","legendX":223,"legendY":9,"rowPadding":1.5}}}},
  {"data": {"values": [{"xm":63,"lab":"-10□"},{"xm":180,"lab":"-20□"},{"xm":240,"lab":"30□"}]},
   "mark": {"type": "text","fontSize": 13,"fontWeight":"bold"},
   "encoding": {"x": {"field":"xm","type":"quantitative"},"y":{"datum":1.4,"type":"quantitative"},"text":{"field":"lab"}}},
  {"data": {"values": [{"x":51,"y":0.3,"x2":56.8,"y2":14.8},{"x":249.4,"y":2.3,"x2":253.3,"y2":11.9}]},
   "mark": {"type":"rule","color":"#1a1a8a","strokeDash":[6,2,2,2],"strokeWidth":1.5},
   "encoding": {"x":{"field":"x","type":"quantitative"},"y":{"field":"y","type":"quantitative"},"x2":{"field":"x2"},"y2":{"field":"y2"}}},
  {"data": {"values": [{"x":50,"y":17.5,"x2":55.5,"y2":14.8,"ang":160},{"x":232,"y":6.6,"x2":247,"y2":3.7,"ang":142},{"x":184,"y":25.3,"x2":184,"y2":35.3,"ang":0}]},
   "layer": [
    {"mark": {"type":"rule","color":"black","strokeWidth":1.3},
     "encoding": {"x":{"field":"x","type":"quantitative"},"y":{"field":"y","type":"quantitative"},"x2":{"field":"x2"},"y2":{"field":"y2"}}},
    {"mark": {"type":"point","shape":"wedge","filled":true,"color":"black","size":50,"opacity":1},
     "encoding": {"x":{"field":"x2","type":"quantitative"},"y":{"field":"y2","type":"quantitative"},"angle":{"field":"ang","type":"quantitative","scale":null}}}
   ]},
  {"data": {"values": [{"x":184,"y":25.3},{"x":184,"y":28.6},{"x":184,"y":31},{"x":184,"y":32.3},{"x":184,"y":35.6}]},
   "mark": {"type":"point","shape":"circle","filled":false,"color":"#e8308f","strokeWidth":1.3,"size":40,"opacity":1},
   "encoding": {"x":{"field":"x","type":"quantitative"},"y":{"field":"y","type":"quantitative"}}},
  {"data": {"values": [{"x":42,"y":19.4,"txt":"Ice form"},{"x":166,"y":6.5,"txt":"Liquid pressure"},{"x":130,"y":38.1,"txt":"Pressure increase"}]},
   "mark": {"type":"text","fontSize":12.5},
   "encoding": {"x":{"field":"x","type":"quantitative"},"y":{"field":"y","type":"quantitative"},"text":{"field":"txt"}}},
  {"data": {"values": [{"x":-11,"y":37.7,"txt":"S30-E1"}]},
   "mark": {"type":"text","fontSize":15,"align":"left","color":"#f0506e"},
   "encoding": {"x":{"field":"x","type":"quantitative"},"y":{"field":"y","type":"quantitative"},"text":{"field":"txt"}}}
 ]}
],
"spacing": 32,
"resolve": {"scale": {"color":"independent","fill":"independent"}, "legend": {"color":"independent"}}},
{"hconcat": [
{"width": 291, "height": 218,
 "title": {"text": "(e)", "orient": "bottom", "dx": -17, "offset": 10},
 "layer": [
  {"data": {"values": [{"x1":-25,"x2":134.5,"lab":"-10□"},{"x1":134.5,"x2":206,"lab":"-20□"},{"x1":206,"x2":259.5,"lab":"30□"}]},
   "mark": {"type": "rect"},
   "encoding": {"x": {"field":"x1","type":"quantitative"},"x2":{"field":"x2"},"y":{"datum":-14.6,"type":"quantitative"},"y2":{"datum":-17.5},
    "fill": {"field":"lab","type":"nominal","legend":null,"scale":{"domain":["-10□","-20□","30□"],"range":["#74c1fa","#3a88d9","#f20f0f"]}}}},
  {"data": {"values": [{"xm":50,"lab":"-10□"},{"xm":165,"lab":"-20□"},{"xm":229,"lab":"30□"}]},
   "mark": {"type": "text","fontSize": 13,"fontWeight":"bold"},
   "encoding": {"x": {"field":"xm","type":"quantitative"},"y":{"datum":-16,"type":"quantitative"},"text":{"field":"lab"}}},
  {"data": {"values": [{"x":135,"top":20},{"x":207,"top":18.8}]},
   "mark": {"type":"rule","color":"#f4505a","strokeDash":[7,4],"strokeWidth":1.6},
   "encoding": {"x":{"field":"x","type":"quantitative"},"y":{"field":"top","type":"quantitative"},"y2":{"datum":-14.6}}},
  {"data": {"values": [{"y":-1,"x1":-10.5,"x2":229}]},
   "mark": {"type":"rule","color":"#b0b0b0","strokeDash":[8,5],"strokeWidth":1.2},
   "encoding": {"x":{"field":"x1","type":"quantitative"},"x2":{"field":"x2"},"y":{"field":"y","type":"quantitative"}}},
  {"data": {"name": "le"},
   "mark": {"type":"line","strokeWidth":1.8},
   "encoding": {
    "x": {"field":"t","type":"quantitative","scale":{"domain":[-25,260],"nice":false,"zero":false},"axis":{"values":[0,25,50,75,100,125,150,175,200,225,250],"tickCount":40,"format":"d","labelExpr":"datum.value % 50 === 0 ? datum.label : ' '","labelOverlap":false,"tickSize":{"condition":{"test":"datum.value % 50 !== 0","value":2.5},"value":4.5},"title":"Single Cycle Time (h)"}},
    "y": {"field":"p","type":"quantitative","scale":{"domain":[-17.5,22.5],"nice":false,"zero":false},"axis":{"values":[-17.5,-15,-12.5,-10,-7.5,-5,-2.5,0,2.5,5,7.5,10,12.5,15,17.5,20,22.5],"tickCount":40,"format":"d","labelExpr":"datum.value % 5 === 0 ? datum.label : ' '","labelOverlap":false,"tickSize":{"condition":{"test":"datum.value % 5 !== 0","value":2.5},"value":4.5},"title":"Soil Pressure (kPa)"}},
    "color": {"field":"s","type":"nominal","scale":{"domain":["FT1","FT2","FT3","FT4"],"range":["#505050","#ee4545","#1d63d8","#2ba45c"]},"legend":{"title":null,"orient":"none","legendX":245,"legendY":20,"rowPadding":0.7}}}},
  {"data": {"values": [{"x":40,"y":1.6,"x2":56,"y2":12.4,"ang":15.5},{"x":76,"y":-11.9,"x2":64.5,"y2":12.4,"ang":355}]},
   "layer": [
    {"mark": {"type":"rule","color":"black","strokeWidth":1},
     "encoding": {"x":{"field":"x","type":"quantitative"},"y":{"field":"y","type":"quantitative"},"x2":{"field":"x2"},"y2":{"field":"y2"}}},
    {"mark": {"type":"point","shape":"wedge","filled":true,"color":"black","size":50,"opacity":1},
     "encoding": {"x":{"field":"x2","type":"quantitative"},"y":{"field":"y2","type":"quantitative"},"angle":{"field":"ang","type":"quantitative","scale":null}}}
   ]},
  {"data": {"values": [{"x":221,"y":18.5,"x2":228,"y2":3,"ang":175}]},
   "layer": [
    {"mark": {"type":"rule","color":"#ee3a3a","strokeWidth":1.5},
     "encoding": {"x":{"field":"x","type":"quantitative"},"y":{"field":"y","type":"quantitative"},"x2":{"field":"x2"},"y2":{"field":"y2"}}},
    {"mark": {"type":"point","shape":"wedge","filled":true,"color":"#ee3a3a","size":50,"opacity":1},
     "encoding": {"x":{"field":"x2","type":"quantitative"},"y":{"field":"y2","type":"quantitative"},"angle":{"field":"ang","type":"quantitative","scale":null}}}
   ]},
  {"data": {"values": [{"x":50,"y":14.8,"txt":"Sensor is not in close contact"}]},
   "mark": {"type":"text","fontSize":11.5},
   "encoding": {"x":{"field":"x","type":"quantitative"},"y":{"field":"y","type":"quantitative"},"text":{"field":"txt"}}},
  {"data": {"values": [{"x":-9,"y":21,"txt":"S30-E3"}]},
   "mark": {"type":"text","fontSize":12,"align":"left","color":"#f0506e"},
   "encoding": {"x":{"field":"x","type":"quantitative"},"y":{"field":"y","type":"quantitative"},"text":{"field":"txt"}}}
 ]},
{"width": 273, "height": 225,
 "title": {"text": "(f)", "orient": "bottom", "dx": -16, "offset": 4},
 "layer": [
  {"data": {"values": [{"x1":-25,"x2":155.4,"lab":"-10□"},{"x1":155.4,"x2":224.3,"lab":"-20□"},{"x1":224.3,"x2":273,"lab":"30□"}]},
   "mark": {"type": "rect"},
   "encoding": {"x": {"field":"x1","type":"quantitative"},"x2":{"field":"x2"},"y":{"datum":-20,"type":"quantitative"},"y2":{"datum":-22.4},
    "fill": {"field":"lab","type":"nominal","legend":null,"scale":{"domain":["-10□","-20□","30□"],"range":["#74c1fa","#3a88d9","#f20f0f"]}}}},
  {"data": {"values": [{"xm":63,"lab":"-10□"},{"xm":187,"lab":"-20□"},{"xm":247,"lab":"30□"}]},
   "mark": {"type": "text","fontSize": 13,"fontWeight":"bold"},
   "encoding": {"x": {"field":"xm","type":"quantitative"},"y":{"datum":-21.3,"type":"quantitative"},"text":{"field":"lab"}}},
  {"data": {"values": [{"x":155.4},{"x":224.3}]},
   "mark": {"type":"rule","color":"#f47c7c","strokeDash":[7,4],"strokeWidth":1.3},
   "encoding": {"x":{"field":"x","type":"quantitative"},"y":{"datum":6.7,"type":"quantitative"},"y2":{"datum":-20}}},
  {"data": {"values": [{"x":29.3,"y":3.5,"x2":25.4,"y2":-17.2},{"x":237.8,"y":-2,"x2":239.8,"y2":-19.2}]},
   "mark": {"type":"rule","color":"#1a1a8a","strokeDash":[6,2,2,2],"strokeWidth":1.5},
   "encoding": {"x":{"field":"x","type":"quantitative"},"y":{"field":"y","type":"quantitative"},"x2":{"field":"x2"},"y2":{"field":"y2"}}},
  {"data": {"name": "lf"},
   "mark": {"type":"line","strokeWidth":1.8},
   "encoding": {
    "x": {"field":"t","type":"quantitative","scale":{"domain":[-25,300],"nice":false,"zero":false},"axis":{"values":[0,25,50,75,100,125,150,175,200,225,250,275,300],"tickCount":40,"format":"d","labelExpr":"datum.value % 50 === 0 ? datum.label : ' '","labelOverlap":false,"tickSize":{"condition":{"test":"datum.value % 50 !== 0","value":2.5},"value":4.5},"titlePadding":5,"title":"Single Cycle Time (h)"}},
    "y": {"field":"p","type":"quantitative","scale":{"domain":[-22.5,7.5],"nice":false,"zero":false},"axis":{"values":[-22.5,-20,-17.5,-15,-12.5,-10,-7.5,-5,-2.5,0,2.5,5,7.5],"tickCount":40,"format":"d","labelExpr":"datum.value % 5 === 0 ? datum.label : ' '","labelOverlap":false,"tickSize":{"condition":{"test":"datum.value % 5 !== 0","value":2.5},"value":4.5},"title":"Relative Soil Pressure (kPa)"}},
    "color": {"field":"s","type":"nominal","scale":{"domain":["FT1","FT2","FT3"],"range":["#000000","#ff1a1a","#3bb4f0"]},"legend":{"title":null,"orient":"none","legendX":215,"legendY":10,"rowPadding":3.5}}}},
  {"data": {"values": [{"x":30.5,"y":-8.6,"x2":37,"y2":-11.2,"ang":164},{"x":218,"y":-6.2,"x2":238,"y2":-8.8,"ang":139}]},
   "layer": [
    {"mark": {"type":"rule","color":"black","strokeWidth":1.3},
     "encoding": {"x":{"field":"x","type":"quantitative"},"y":{"field":"y","type":"quantitative"},"x2":{"field":"x2"},"y2":{"field":"y2"}}},
    {"mark": {"type":"point","shape":"wedge","filled":true,"color":"black","size":50,"opacity":1},
     "encoding": {"x":{"field":"x2","type":"quantitative"},"y":{"field":"y2","type":"quantitative"},"angle":{"field":"ang","type":"quantitative","scale":null}}}
   ]},
  {"data": {"values": [{"x":112.6,"y":4.2,"x2":116.3,"y2":-17,"ang":179}]},
   "layer": [
    {"mark": {"type":"rule","color":"#555555","strokeWidth":1.5},
     "encoding": {"x":{"field":"x","type":"quantitative"},"y":{"field":"y","type":"quantitative"},"x2":{"field":"x2"},"y2":{"field":"y2"}}},
    {"mark": {"type":"point","shape":"wedge","filled":true,"color":"#555555","size":50,"opacity":1},
     "encoding": {"x":{"field":"x2","type":"quantitative"},"y":{"field":"y2","type":"quantitative"},"angle":{"field":"ang","type":"quantitative","scale":null}}}
   ]},
  {"data": {"values": [{"x":112.6,"y":4.2},{"x":116,"y":-8},{"x":116.5,"y":-17.6}]},
   "mark": {"type":"point","shape":"circle","filled":false,"color":"#e8308f","strokeWidth":1.3,"size":45,"opacity":1},
   "encoding": {"x":{"field":"x","type":"quantitative"},"y":{"field":"y","type":"quantitative"}}},
  {"data": {"values": [{"x":57,"y":-11.8,"txt":"Ice form"},{"x":166,"y":-4.8,"txt":"Liquid pressure"},{"x":122,"y":6.4,"txt":"Pressure decrease"}]},
   "mark": {"type":"text","fontSize":12.5},
   "encoding": {"x":{"field":"x","type":"quantitative"},"y":{"field":"y","type":"quantitative"},"text":{"field":"txt"}}},
  {"data": {"values": [{"x":-16,"y":6,"txt":"S40-E3"}]},
   "mark": {"type":"text","fontSize":15,"align":"left","color":"#f0506e"},
   "encoding": {"x":{"field":"x","type":"quantitative"},"y":{"field":"y","type":"quantitative"},"text":{"field":"txt"}}}
 ]}
],
"spacing": 28,
"resolve": {"scale": {"color":"independent","fill":"independent"}, "legend": {"color":"independent"}}}
],
"spacing": 6,
"resolve": {"scale": {"color":"independent","fill":"independent"}, "legend": {"color":"independent"}}}
],
"spacing": 22,
"resolve": {"scale": {"color":"independent","fill":"independent"}, "legend": {"color":"independent"}},
"config": {
 "font": "Liberation Serif",
 "view": {"stroke": null},
 "axis": {"grid": false, "domainColor": "#000000", "domainWidth": 1.3, "tickColor": "#000000", "tickWidth": 1.2, "tickSize": 4.5, "labelColor": "#000000", "labelFontSize": 11, "labelFont": "Liberation Serif", "titleFont": "Liberation Serif", "titleFontSize": 14, "titleFontWeight": "normal", "titleColor": "#000000", "labelPadding": 2, "titlePadding": 6, "labelOverlap": false},
 "axisY": {"titleFontSize": 13.5, "titlePadding": 1},
 "legend": {"labelFont": "Liberation Serif", "labelFontSize": 12, "labelColor": "#000000", "symbolType": "M-2.1,0H2.1", "symbolSize": 144, "symbolStrokeWidth": 2.5, "rowPadding": 0, "labelOffset": 10},
 "title": {"font": "Liberation Serif", "fontSize": 15, "fontWeight": "normal", "color": "#000000"},
 "text": {"font": "Liberation Serif", "color": "#000000"}
}
}
